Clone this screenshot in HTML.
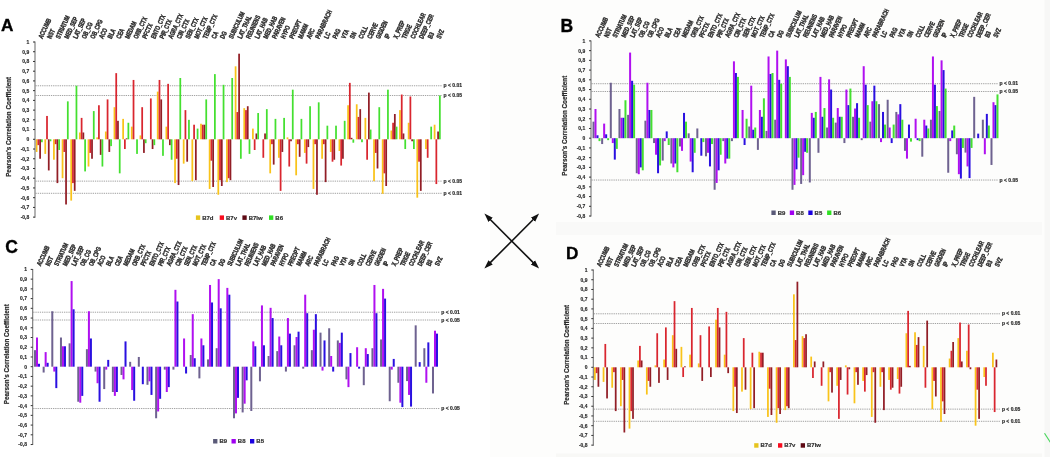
<!DOCTYPE html>
<html><head><meta charset="utf-8"><style>
html,body{margin:0;padding:0;background:#fff;}
body{width:1050px;height:457px;overflow:hidden;}
svg{display:block;font-family:"Liberation Sans", sans-serif;filter:blur(0.5px);}
text{stroke:#2a2a2a;stroke-width:0.18px;}
</style></head><body>
<svg width="1050" height="457" viewBox="0 0 1050 457">
<defs><marker id="ah" viewBox="0 0 10 10" refX="5" refY="5" markerWidth="5.5" markerHeight="5.5" orient="auto-start-reverse" markerUnits="strokeWidth"><path d="M0,1.6 L10,5 L0,8.4 z" fill="#111"/></marker></defs>
<rect width="1050" height="457" fill="#fff"/>
<rect x="490" y="0" width="560" height="457" fill="#fdfdfc"/>
<rect x="556" y="222" width="486" height="13" fill="#f9f9f8"/>
<rect x="556" y="453.5" width="486" height="4" fill="#f8f8f6"/>
<rect x="1044.5" y="0" width="6" height="457" fill="#f7f7f6"/>
<line x1="35.50" y1="85.78" x2="441.60" y2="85.78" stroke="#a2a2a2" stroke-width="1" stroke-dasharray="1.3,0.9"/>
<line x1="35.50" y1="95.52" x2="441.60" y2="95.52" stroke="#a2a2a2" stroke-width="1" stroke-dasharray="1.3,0.9"/>
<line x1="35.50" y1="181.14" x2="441.60" y2="181.14" stroke="#a2a2a2" stroke-width="1" stroke-dasharray="1.3,0.9"/>
<line x1="35.50" y1="193.30" x2="441.60" y2="193.30" stroke="#a2a2a2" stroke-width="1" stroke-dasharray="1.3,0.9"/>
<text x="443.60" y="87.38" font-size="5.2" font-weight="bold" fill="#2a2a2a" textLength="18.5" lengthAdjust="spacingAndGlyphs">p &lt; 0.01</text>
<text x="443.60" y="97.12" font-size="5.2" font-weight="bold" fill="#2a2a2a" textLength="18.5" lengthAdjust="spacingAndGlyphs">p &lt; 0.05</text>
<text x="443.60" y="182.74" font-size="5.2" font-weight="bold" fill="#2a2a2a" textLength="18.5" lengthAdjust="spacingAndGlyphs">p &lt; 0.05</text>
<text x="443.60" y="194.90" font-size="5.2" font-weight="bold" fill="#2a2a2a" textLength="18.5" lengthAdjust="spacingAndGlyphs">p &lt; 0.01</text>
<rect x="35.73" y="139.30" width="1.75" height="12.65" fill="#f9c31a"/>
<rect x="37.48" y="139.30" width="1.75" height="5.84" fill="#d9262f"/>
<rect x="39.23" y="139.30" width="1.75" height="19.46" fill="#921e26"/>
<rect x="40.98" y="139.30" width="1.75" height="2.92" fill="#44e030"/>
<rect x="44.38" y="139.30" width="1.75" height="14.60" fill="#f9c31a"/>
<rect x="46.13" y="115.95" width="1.75" height="23.35" fill="#d9262f"/>
<rect x="47.88" y="139.30" width="1.75" height="31.14" fill="#921e26"/>
<rect x="49.63" y="139.30" width="1.75" height="1.95" fill="#44e030"/>
<rect x="53.03" y="139.30" width="1.75" height="20.43" fill="#f9c31a"/>
<rect x="54.78" y="139.30" width="1.75" height="4.87" fill="#d9262f"/>
<rect x="56.53" y="139.30" width="1.75" height="43.79" fill="#921e26"/>
<rect x="58.28" y="139.30" width="1.75" height="10.70" fill="#44e030"/>
<rect x="61.68" y="139.30" width="1.75" height="38.92" fill="#f9c31a"/>
<rect x="63.43" y="139.30" width="1.75" height="12.65" fill="#d9262f"/>
<rect x="65.18" y="139.30" width="1.75" height="65.19" fill="#921e26"/>
<rect x="66.93" y="101.35" width="1.75" height="37.95" fill="#44e030"/>
<rect x="70.33" y="139.30" width="1.75" height="61.30" fill="#f9c31a"/>
<rect x="72.08" y="139.30" width="1.75" height="43.79" fill="#d9262f"/>
<rect x="73.83" y="139.30" width="1.75" height="51.57" fill="#921e26"/>
<rect x="75.58" y="85.78" width="1.75" height="53.52" fill="#44e030"/>
<rect x="78.98" y="132.49" width="1.75" height="6.81" fill="#f9c31a"/>
<rect x="80.73" y="117.89" width="1.75" height="21.41" fill="#d9262f"/>
<rect x="82.48" y="132.49" width="1.75" height="6.81" fill="#921e26"/>
<rect x="84.23" y="139.30" width="1.75" height="32.11" fill="#44e030"/>
<rect x="87.64" y="139.30" width="1.75" height="27.24" fill="#f9c31a"/>
<rect x="89.39" y="139.30" width="1.75" height="13.62" fill="#d9262f"/>
<rect x="91.14" y="139.30" width="1.75" height="19.46" fill="#921e26"/>
<rect x="92.89" y="111.08" width="1.75" height="28.22" fill="#44e030"/>
<rect x="96.29" y="137.35" width="1.75" height="1.95" fill="#f9c31a"/>
<rect x="98.04" y="105.25" width="1.75" height="34.05" fill="#d9262f"/>
<rect x="99.79" y="139.30" width="1.75" height="15.57" fill="#921e26"/>
<rect x="101.54" y="139.30" width="1.75" height="27.24" fill="#44e030"/>
<rect x="104.94" y="131.52" width="1.75" height="7.78" fill="#f9c31a"/>
<rect x="106.69" y="99.41" width="1.75" height="39.89" fill="#d9262f"/>
<rect x="108.44" y="139.30" width="1.75" height="12.65" fill="#921e26"/>
<rect x="110.19" y="139.30" width="1.75" height="6.81" fill="#44e030"/>
<rect x="113.59" y="107.19" width="1.75" height="32.11" fill="#f9c31a"/>
<rect x="115.34" y="73.14" width="1.75" height="66.16" fill="#d9262f"/>
<rect x="117.09" y="120.81" width="1.75" height="18.49" fill="#921e26"/>
<rect x="118.84" y="139.30" width="1.75" height="34.05" fill="#44e030"/>
<rect x="122.25" y="118.87" width="1.75" height="20.43" fill="#f9c31a"/>
<rect x="124.00" y="139.30" width="1.75" height="9.73" fill="#d9262f"/>
<rect x="125.75" y="138.33" width="1.75" height="0.97" fill="#921e26"/>
<rect x="127.50" y="122.76" width="1.75" height="16.54" fill="#44e030"/>
<rect x="130.90" y="126.65" width="1.75" height="12.65" fill="#f9c31a"/>
<rect x="132.65" y="79.95" width="1.75" height="59.35" fill="#d9262f"/>
<rect x="136.15" y="139.30" width="1.75" height="14.60" fill="#44e030"/>
<rect x="139.55" y="135.41" width="1.75" height="3.89" fill="#f9c31a"/>
<rect x="141.30" y="107.19" width="1.75" height="32.11" fill="#d9262f"/>
<rect x="143.05" y="139.30" width="1.75" height="13.62" fill="#921e26"/>
<rect x="144.80" y="139.30" width="1.75" height="3.89" fill="#44e030"/>
<rect x="149.95" y="98.43" width="1.75" height="40.87" fill="#d9262f"/>
<rect x="151.70" y="139.30" width="1.75" height="9.73" fill="#921e26"/>
<rect x="153.45" y="139.30" width="1.75" height="5.84" fill="#44e030"/>
<rect x="156.85" y="91.62" width="1.75" height="47.68" fill="#f9c31a"/>
<rect x="158.60" y="79.95" width="1.75" height="59.35" fill="#d9262f"/>
<rect x="160.35" y="99.41" width="1.75" height="39.89" fill="#921e26"/>
<rect x="162.10" y="139.30" width="1.75" height="16.54" fill="#44e030"/>
<rect x="165.50" y="126.65" width="1.75" height="12.65" fill="#f9c31a"/>
<rect x="167.25" y="83.84" width="1.75" height="55.46" fill="#d9262f"/>
<rect x="169.00" y="139.30" width="1.75" height="5.84" fill="#921e26"/>
<rect x="170.75" y="139.30" width="1.75" height="20.43" fill="#44e030"/>
<rect x="174.16" y="139.30" width="1.75" height="43.79" fill="#f9c31a"/>
<rect x="175.91" y="139.30" width="1.75" height="19.46" fill="#d9262f"/>
<rect x="177.66" y="139.30" width="1.75" height="45.73" fill="#921e26"/>
<rect x="179.41" y="78.00" width="1.75" height="61.30" fill="#44e030"/>
<rect x="182.81" y="139.30" width="1.75" height="24.33" fill="#f9c31a"/>
<rect x="184.56" y="110.11" width="1.75" height="29.19" fill="#d9262f"/>
<rect x="186.31" y="139.30" width="1.75" height="22.38" fill="#921e26"/>
<rect x="188.06" y="119.84" width="1.75" height="19.46" fill="#44e030"/>
<rect x="191.46" y="139.30" width="1.75" height="41.84" fill="#f9c31a"/>
<rect x="193.21" y="124.71" width="1.75" height="14.60" fill="#d9262f"/>
<rect x="194.96" y="139.30" width="1.75" height="40.87" fill="#921e26"/>
<rect x="196.71" y="128.60" width="1.75" height="10.70" fill="#44e030"/>
<rect x="200.11" y="123.73" width="1.75" height="15.57" fill="#f9c31a"/>
<rect x="201.86" y="124.71" width="1.75" height="14.60" fill="#d9262f"/>
<rect x="203.61" y="124.71" width="1.75" height="14.60" fill="#921e26"/>
<rect x="205.36" y="99.41" width="1.75" height="39.89" fill="#44e030"/>
<rect x="208.76" y="139.30" width="1.75" height="49.62" fill="#f9c31a"/>
<rect x="210.51" y="139.30" width="1.75" height="21.41" fill="#d9262f"/>
<rect x="212.26" y="139.30" width="1.75" height="47.68" fill="#921e26"/>
<rect x="214.01" y="74.11" width="1.75" height="65.19" fill="#44e030"/>
<rect x="217.42" y="139.30" width="1.75" height="55.46" fill="#f9c31a"/>
<rect x="219.17" y="139.30" width="1.75" height="40.87" fill="#d9262f"/>
<rect x="220.92" y="139.30" width="1.75" height="46.70" fill="#921e26"/>
<rect x="222.67" y="84.81" width="1.75" height="54.49" fill="#44e030"/>
<rect x="226.07" y="139.30" width="1.75" height="42.81" fill="#f9c31a"/>
<rect x="227.82" y="139.30" width="1.75" height="38.92" fill="#d9262f"/>
<rect x="229.57" y="139.30" width="1.75" height="40.87" fill="#921e26"/>
<rect x="231.32" y="78.00" width="1.75" height="61.30" fill="#44e030"/>
<rect x="234.72" y="66.33" width="1.75" height="72.98" fill="#f9c31a"/>
<rect x="236.47" y="112.06" width="1.75" height="27.24" fill="#d9262f"/>
<rect x="238.22" y="53.68" width="1.75" height="85.62" fill="#921e26"/>
<rect x="239.97" y="139.30" width="1.75" height="19.46" fill="#44e030"/>
<rect x="243.37" y="108.16" width="1.75" height="31.14" fill="#f9c31a"/>
<rect x="245.12" y="110.11" width="1.75" height="29.19" fill="#d9262f"/>
<rect x="246.87" y="106.22" width="1.75" height="33.08" fill="#921e26"/>
<rect x="248.62" y="139.30" width="1.75" height="14.60" fill="#44e030"/>
<rect x="252.02" y="128.60" width="1.75" height="10.70" fill="#f9c31a"/>
<rect x="253.77" y="139.30" width="1.75" height="10.70" fill="#d9262f"/>
<rect x="255.52" y="133.46" width="1.75" height="5.84" fill="#921e26"/>
<rect x="257.27" y="113.03" width="1.75" height="26.27" fill="#44e030"/>
<rect x="262.43" y="139.30" width="1.75" height="18.49" fill="#d9262f"/>
<rect x="264.18" y="133.46" width="1.75" height="5.84" fill="#921e26"/>
<rect x="265.93" y="109.14" width="1.75" height="30.16" fill="#44e030"/>
<rect x="269.33" y="139.30" width="1.75" height="34.05" fill="#f9c31a"/>
<rect x="271.08" y="139.30" width="1.75" height="4.87" fill="#d9262f"/>
<rect x="272.83" y="139.30" width="1.75" height="25.30" fill="#921e26"/>
<rect x="274.58" y="118.87" width="1.75" height="20.43" fill="#44e030"/>
<rect x="277.98" y="139.30" width="1.75" height="18.49" fill="#f9c31a"/>
<rect x="279.73" y="139.30" width="1.75" height="51.57" fill="#d9262f"/>
<rect x="281.48" y="139.30" width="1.75" height="12.65" fill="#921e26"/>
<rect x="283.23" y="117.89" width="1.75" height="21.41" fill="#44e030"/>
<rect x="286.63" y="137.35" width="1.75" height="1.95" fill="#f9c31a"/>
<rect x="288.38" y="139.30" width="1.75" height="27.24" fill="#d9262f"/>
<rect x="290.13" y="139.30" width="1.75" height="1.95" fill="#921e26"/>
<rect x="291.88" y="89.68" width="1.75" height="49.62" fill="#44e030"/>
<rect x="295.29" y="139.30" width="1.75" height="36.00" fill="#f9c31a"/>
<rect x="297.04" y="139.30" width="1.75" height="4.87" fill="#d9262f"/>
<rect x="298.79" y="139.30" width="1.75" height="17.51" fill="#921e26"/>
<rect x="300.54" y="118.87" width="1.75" height="20.43" fill="#44e030"/>
<rect x="303.94" y="139.30" width="1.75" height="13.62" fill="#f9c31a"/>
<rect x="305.69" y="139.30" width="1.75" height="24.33" fill="#d9262f"/>
<rect x="307.44" y="139.30" width="1.75" height="7.78" fill="#921e26"/>
<rect x="309.19" y="106.22" width="1.75" height="33.08" fill="#44e030"/>
<rect x="312.59" y="139.30" width="1.75" height="49.62" fill="#f9c31a"/>
<rect x="314.34" y="139.30" width="1.75" height="4.87" fill="#d9262f"/>
<rect x="316.09" y="139.30" width="1.75" height="55.46" fill="#921e26"/>
<rect x="317.84" y="102.33" width="1.75" height="36.97" fill="#44e030"/>
<rect x="321.24" y="139.30" width="1.75" height="19.46" fill="#f9c31a"/>
<rect x="322.99" y="139.30" width="1.75" height="4.87" fill="#d9262f"/>
<rect x="324.74" y="139.30" width="1.75" height="42.81" fill="#921e26"/>
<rect x="326.49" y="125.68" width="1.75" height="13.62" fill="#44e030"/>
<rect x="329.89" y="139.30" width="1.75" height="12.65" fill="#f9c31a"/>
<rect x="331.64" y="139.30" width="1.75" height="22.38" fill="#d9262f"/>
<rect x="333.39" y="139.30" width="1.75" height="20.43" fill="#921e26"/>
<rect x="335.14" y="125.68" width="1.75" height="13.62" fill="#44e030"/>
<rect x="338.55" y="139.30" width="1.75" height="11.68" fill="#f9c31a"/>
<rect x="340.30" y="139.30" width="1.75" height="26.27" fill="#d9262f"/>
<rect x="342.05" y="139.30" width="1.75" height="19.46" fill="#921e26"/>
<rect x="343.80" y="120.81" width="1.75" height="18.49" fill="#44e030"/>
<rect x="347.20" y="105.25" width="1.75" height="34.05" fill="#f9c31a"/>
<rect x="348.95" y="82.87" width="1.75" height="56.43" fill="#d9262f"/>
<rect x="350.70" y="137.84" width="1.75" height="1.46" fill="#921e26"/>
<rect x="352.45" y="139.30" width="1.75" height="3.41" fill="#44e030"/>
<rect x="355.85" y="104.27" width="1.75" height="35.03" fill="#f9c31a"/>
<rect x="357.60" y="116.92" width="1.75" height="22.38" fill="#d9262f"/>
<rect x="359.35" y="109.14" width="1.75" height="30.16" fill="#921e26"/>
<rect x="361.10" y="139.30" width="1.75" height="2.92" fill="#44e030"/>
<rect x="364.50" y="117.89" width="1.75" height="21.41" fill="#f9c31a"/>
<rect x="366.25" y="139.30" width="1.75" height="20.43" fill="#d9262f"/>
<rect x="368.00" y="92.60" width="1.75" height="46.70" fill="#921e26"/>
<rect x="369.75" y="129.57" width="1.75" height="9.73" fill="#44e030"/>
<rect x="373.15" y="139.30" width="1.75" height="41.84" fill="#f9c31a"/>
<rect x="374.90" y="139.30" width="1.75" height="13.62" fill="#d9262f"/>
<rect x="376.65" y="139.30" width="1.75" height="29.19" fill="#921e26"/>
<rect x="378.40" y="107.19" width="1.75" height="32.11" fill="#44e030"/>
<rect x="381.81" y="139.30" width="1.75" height="54.49" fill="#f9c31a"/>
<rect x="383.56" y="139.30" width="1.75" height="34.05" fill="#d9262f"/>
<rect x="385.31" y="139.30" width="1.75" height="46.70" fill="#921e26"/>
<rect x="387.06" y="89.68" width="1.75" height="49.62" fill="#44e030"/>
<rect x="390.46" y="130.54" width="1.75" height="8.76" fill="#f9c31a"/>
<rect x="392.21" y="122.76" width="1.75" height="16.54" fill="#d9262f"/>
<rect x="393.96" y="114.00" width="1.75" height="25.30" fill="#921e26"/>
<rect x="395.71" y="126.65" width="1.75" height="12.65" fill="#44e030"/>
<rect x="399.11" y="110.11" width="1.75" height="29.19" fill="#f9c31a"/>
<rect x="400.86" y="94.54" width="1.75" height="44.76" fill="#d9262f"/>
<rect x="402.61" y="133.46" width="1.75" height="5.84" fill="#921e26"/>
<rect x="404.36" y="139.30" width="1.75" height="9.73" fill="#44e030"/>
<rect x="407.76" y="122.76" width="1.75" height="16.54" fill="#f9c31a"/>
<rect x="409.51" y="96.49" width="1.75" height="42.81" fill="#d9262f"/>
<rect x="411.26" y="139.30" width="1.75" height="1.95" fill="#921e26"/>
<rect x="413.01" y="139.30" width="1.75" height="9.73" fill="#44e030"/>
<rect x="416.41" y="139.30" width="1.75" height="58.38" fill="#f9c31a"/>
<rect x="418.16" y="139.30" width="1.75" height="22.38" fill="#d9262f"/>
<rect x="419.91" y="139.30" width="1.75" height="51.57" fill="#921e26"/>
<rect x="425.06" y="139.30" width="1.75" height="9.73" fill="#f9c31a"/>
<rect x="426.81" y="139.30" width="1.75" height="18.49" fill="#d9262f"/>
<rect x="430.31" y="126.65" width="1.75" height="12.65" fill="#44e030"/>
<rect x="433.72" y="124.71" width="1.75" height="14.60" fill="#f9c31a"/>
<rect x="435.47" y="139.30" width="1.75" height="44.76" fill="#d9262f"/>
<rect x="437.22" y="131.52" width="1.75" height="7.78" fill="#921e26"/>
<rect x="438.97" y="95.52" width="1.75" height="43.79" fill="#44e030"/>
<line x1="35.00" y1="41.50" x2="35.00" y2="217.64" stroke="#747474" stroke-width="1.1"/>
<line x1="33.00" y1="42.00" x2="35.00" y2="42.00" stroke="#333" stroke-width="1"/>
<text transform="translate(29.20,43.90) scale(0.84,1)" font-size="5.9" font-weight="bold" fill="#2a2a2a" text-anchor="end">1</text>
<line x1="33.00" y1="51.73" x2="35.00" y2="51.73" stroke="#333" stroke-width="1"/>
<text transform="translate(29.20,53.63) scale(0.84,1)" font-size="5.9" font-weight="bold" fill="#2a2a2a" text-anchor="end">0,9</text>
<line x1="33.00" y1="61.46" x2="35.00" y2="61.46" stroke="#333" stroke-width="1"/>
<text transform="translate(29.20,63.36) scale(0.84,1)" font-size="5.9" font-weight="bold" fill="#2a2a2a" text-anchor="end">0,8</text>
<line x1="33.00" y1="71.19" x2="35.00" y2="71.19" stroke="#333" stroke-width="1"/>
<text transform="translate(29.20,73.09) scale(0.84,1)" font-size="5.9" font-weight="bold" fill="#2a2a2a" text-anchor="end">0,7</text>
<line x1="33.00" y1="80.92" x2="35.00" y2="80.92" stroke="#333" stroke-width="1"/>
<text transform="translate(29.20,82.82) scale(0.84,1)" font-size="5.9" font-weight="bold" fill="#2a2a2a" text-anchor="end">0,6</text>
<line x1="33.00" y1="90.65" x2="35.00" y2="90.65" stroke="#333" stroke-width="1"/>
<text transform="translate(29.20,92.55) scale(0.84,1)" font-size="5.9" font-weight="bold" fill="#2a2a2a" text-anchor="end">0,5</text>
<line x1="33.00" y1="100.38" x2="35.00" y2="100.38" stroke="#333" stroke-width="1"/>
<text transform="translate(29.20,102.28) scale(0.84,1)" font-size="5.9" font-weight="bold" fill="#2a2a2a" text-anchor="end">0,4</text>
<line x1="33.00" y1="110.11" x2="35.00" y2="110.11" stroke="#333" stroke-width="1"/>
<text transform="translate(29.20,112.01) scale(0.84,1)" font-size="5.9" font-weight="bold" fill="#2a2a2a" text-anchor="end">0,3</text>
<line x1="33.00" y1="119.84" x2="35.00" y2="119.84" stroke="#333" stroke-width="1"/>
<text transform="translate(29.20,121.74) scale(0.84,1)" font-size="5.9" font-weight="bold" fill="#2a2a2a" text-anchor="end">0,2</text>
<line x1="33.00" y1="129.57" x2="35.00" y2="129.57" stroke="#333" stroke-width="1"/>
<text transform="translate(29.20,131.47) scale(0.84,1)" font-size="5.9" font-weight="bold" fill="#2a2a2a" text-anchor="end">0,1</text>
<line x1="33.00" y1="139.30" x2="35.00" y2="139.30" stroke="#333" stroke-width="1"/>
<text transform="translate(29.20,141.20) scale(0.84,1)" font-size="5.9" font-weight="bold" fill="#2a2a2a" text-anchor="end">0</text>
<line x1="33.00" y1="149.03" x2="35.00" y2="149.03" stroke="#333" stroke-width="1"/>
<text transform="translate(29.20,150.93) scale(0.84,1)" font-size="5.9" font-weight="bold" fill="#2a2a2a" text-anchor="end">-0,1</text>
<line x1="33.00" y1="158.76" x2="35.00" y2="158.76" stroke="#333" stroke-width="1"/>
<text transform="translate(29.20,160.66) scale(0.84,1)" font-size="5.9" font-weight="bold" fill="#2a2a2a" text-anchor="end">-0,2</text>
<line x1="33.00" y1="168.49" x2="35.00" y2="168.49" stroke="#333" stroke-width="1"/>
<text transform="translate(29.20,170.39) scale(0.84,1)" font-size="5.9" font-weight="bold" fill="#2a2a2a" text-anchor="end">-0,3</text>
<line x1="33.00" y1="178.22" x2="35.00" y2="178.22" stroke="#333" stroke-width="1"/>
<text transform="translate(29.20,180.12) scale(0.84,1)" font-size="5.9" font-weight="bold" fill="#2a2a2a" text-anchor="end">-0,4</text>
<line x1="33.00" y1="187.95" x2="35.00" y2="187.95" stroke="#333" stroke-width="1"/>
<text transform="translate(29.20,189.85) scale(0.84,1)" font-size="5.9" font-weight="bold" fill="#2a2a2a" text-anchor="end">-0,5</text>
<line x1="33.00" y1="197.68" x2="35.00" y2="197.68" stroke="#333" stroke-width="1"/>
<text transform="translate(29.20,199.58) scale(0.84,1)" font-size="5.9" font-weight="bold" fill="#2a2a2a" text-anchor="end">-0,6</text>
<line x1="33.00" y1="207.41" x2="35.00" y2="207.41" stroke="#333" stroke-width="1"/>
<text transform="translate(29.20,209.31) scale(0.84,1)" font-size="5.9" font-weight="bold" fill="#2a2a2a" text-anchor="end">-0,7</text>
<line x1="33.00" y1="217.14" x2="35.00" y2="217.14" stroke="#333" stroke-width="1"/>
<text transform="translate(29.20,219.04) scale(0.84,1)" font-size="5.9" font-weight="bold" fill="#2a2a2a" text-anchor="end">-0,8</text>
<text transform="translate(11.00,126.85) rotate(-90)" font-size="6.4" font-weight="bold" fill="#2a2a2a" text-anchor="middle" textLength="100" lengthAdjust="spacingAndGlyphs">Pearson's Correlation Coefficient</text>
<text transform="translate(42.40,39.20) rotate(-65) scale(0.70,1)" font-size="6.9" style="stroke-width:0.42px" font-weight="bold" fill="#2a2a2a">ACCUMB</text>
<text transform="translate(51.05,39.20) rotate(-65) scale(0.70,1)" font-size="6.9" style="stroke-width:0.42px" font-weight="bold" fill="#2a2a2a">NST</text>
<text transform="translate(59.70,39.20) rotate(-65) scale(0.70,1)" font-size="6.9" style="stroke-width:0.42px" font-weight="bold" fill="#2a2a2a">STRIATUM</text>
<text transform="translate(68.36,39.20) rotate(-65) scale(0.70,1)" font-size="6.9" style="stroke-width:0.42px" font-weight="bold" fill="#2a2a2a">MED_SEP</text>
<text transform="translate(77.01,39.20) rotate(-65) scale(0.70,1)" font-size="6.9" style="stroke-width:0.42px" font-weight="bold" fill="#2a2a2a">LAT_SEP</text>
<text transform="translate(85.66,39.20) rotate(-65) scale(0.70,1)" font-size="6.9" style="stroke-width:0.42px" font-weight="bold" fill="#2a2a2a">OB_CG</text>
<text transform="translate(94.31,39.20) rotate(-65) scale(0.70,1)" font-size="6.9" style="stroke-width:0.42px" font-weight="bold" fill="#2a2a2a">OB_CPG</text>
<text transform="translate(102.96,39.20) rotate(-65) scale(0.70,1)" font-size="6.9" style="stroke-width:0.42px" font-weight="bold" fill="#2a2a2a">ACO</text>
<text transform="translate(111.62,39.20) rotate(-65) scale(0.70,1)" font-size="6.9" style="stroke-width:0.42px" font-weight="bold" fill="#2a2a2a">BLA</text>
<text transform="translate(120.27,39.20) rotate(-65) scale(0.70,1)" font-size="6.9" style="stroke-width:0.42px" font-weight="bold" fill="#2a2a2a">CEA</text>
<text transform="translate(128.92,39.20) rotate(-65) scale(0.70,1)" font-size="6.9" style="stroke-width:0.42px" font-weight="bold" fill="#2a2a2a">MEDAM</text>
<text transform="translate(137.57,39.20) rotate(-65) scale(0.70,1)" font-size="6.9" style="stroke-width:0.42px" font-weight="bold" fill="#2a2a2a">ORB_CTX</text>
<text transform="translate(146.22,39.20) rotate(-65) scale(0.70,1)" font-size="6.9" style="stroke-width:0.42px" font-weight="bold" fill="#2a2a2a">PFCTX</text>
<text transform="translate(154.88,39.20) rotate(-65) scale(0.70,1)" font-size="6.9" style="stroke-width:0.42px" font-weight="bold" fill="#2a2a2a">ENTO_CTX</text>
<text transform="translate(163.53,39.20) rotate(-65) scale(0.70,1)" font-size="6.9" style="stroke-width:0.42px" font-weight="bold" fill="#2a2a2a">PIR_CTX</text>
<text transform="translate(172.18,39.20) rotate(-65) scale(0.70,1)" font-size="6.9" style="stroke-width:0.42px" font-weight="bold" fill="#2a2a2a">AGRA_CTX</text>
<text transform="translate(180.83,39.20) rotate(-65) scale(0.70,1)" font-size="6.9" style="stroke-width:0.42px" font-weight="bold" fill="#2a2a2a">CIN_CTX</text>
<text transform="translate(189.48,39.20) rotate(-65) scale(0.70,1)" font-size="6.9" style="stroke-width:0.42px" font-weight="bold" fill="#2a2a2a">SEN_CTX</text>
<text transform="translate(198.14,39.20) rotate(-65) scale(0.70,1)" font-size="6.9" style="stroke-width:0.42px" font-weight="bold" fill="#2a2a2a">MOT_CTX</text>
<text transform="translate(206.79,39.20) rotate(-65) scale(0.70,1)" font-size="6.9" style="stroke-width:0.42px" font-weight="bold" fill="#2a2a2a">TEMP_CTX</text>
<text transform="translate(215.44,39.20) rotate(-65) scale(0.70,1)" font-size="6.9" style="stroke-width:0.42px" font-weight="bold" fill="#2a2a2a">CA</text>
<text transform="translate(224.09,39.20) rotate(-65) scale(0.70,1)" font-size="6.9" style="stroke-width:0.42px" font-weight="bold" fill="#2a2a2a">DG</text>
<text transform="translate(232.74,39.20) rotate(-65) scale(0.70,1)" font-size="6.9" style="stroke-width:0.42px" font-weight="bold" fill="#2a2a2a">SUBICULUM</text>
<text transform="translate(241.40,39.20) rotate(-65) scale(0.70,1)" font-size="6.9" style="stroke-width:0.42px" font-weight="bold" fill="#2a2a2a">LAT_THAL</text>
<text transform="translate(250.05,39.20) rotate(-65) scale(0.70,1)" font-size="6.9" style="stroke-width:0.42px" font-weight="bold" fill="#2a2a2a">REUNIENS</text>
<text transform="translate(258.70,39.20) rotate(-65) scale(0.70,1)" font-size="6.9" style="stroke-width:0.42px" font-weight="bold" fill="#2a2a2a">LAT_HAB</text>
<text transform="translate(267.35,39.20) rotate(-65) scale(0.70,1)" font-size="6.9" style="stroke-width:0.42px" font-weight="bold" fill="#2a2a2a">MED_HAB</text>
<text transform="translate(276.00,39.20) rotate(-65) scale(0.70,1)" font-size="6.9" style="stroke-width:0.42px" font-weight="bold" fill="#2a2a2a">PARAVEN</text>
<text transform="translate(284.66,39.20) rotate(-65) scale(0.70,1)" font-size="6.9" style="stroke-width:0.42px" font-weight="bold" fill="#2a2a2a">HYPO</text>
<text transform="translate(293.31,39.20) rotate(-65) scale(0.70,1)" font-size="6.9" style="stroke-width:0.42px" font-weight="bold" fill="#2a2a2a">PREOPT</text>
<text transform="translate(301.96,39.20) rotate(-65) scale(0.70,1)" font-size="6.9" style="stroke-width:0.42px" font-weight="bold" fill="#2a2a2a">MAMM</text>
<text transform="translate(310.61,39.20) rotate(-65) scale(0.70,1)" font-size="6.9" style="stroke-width:0.42px" font-weight="bold" fill="#2a2a2a">ARC</text>
<text transform="translate(319.26,39.20) rotate(-65) scale(0.70,1)" font-size="6.9" style="stroke-width:0.42px" font-weight="bold" fill="#2a2a2a">PARABRACH</text>
<text transform="translate(327.92,39.20) rotate(-65) scale(0.70,1)" font-size="6.9" style="stroke-width:0.42px" font-weight="bold" fill="#2a2a2a">LC</text>
<text transform="translate(336.57,39.20) rotate(-65) scale(0.70,1)" font-size="6.9" style="stroke-width:0.42px" font-weight="bold" fill="#2a2a2a">PAG</text>
<text transform="translate(345.22,39.20) rotate(-65) scale(0.70,1)" font-size="6.9" style="stroke-width:0.42px" font-weight="bold" fill="#2a2a2a">VTA</text>
<text transform="translate(353.87,39.20) rotate(-65) scale(0.70,1)" font-size="6.9" style="stroke-width:0.42px" font-weight="bold" fill="#2a2a2a">SN</text>
<text transform="translate(362.52,39.20) rotate(-65) scale(0.70,1)" font-size="6.9" style="stroke-width:0.42px" font-weight="bold" fill="#2a2a2a">COLL</text>
<text transform="translate(371.18,39.20) rotate(-65) scale(0.70,1)" font-size="6.9" style="stroke-width:0.42px" font-weight="bold" fill="#2a2a2a">CERVE</text>
<text transform="translate(379.83,39.20) rotate(-65) scale(0.70,1)" font-size="6.9" style="stroke-width:0.42px" font-weight="bold" fill="#2a2a2a">GIGDEN</text>
<text transform="translate(388.48,39.20) rotate(-65) scale(0.70,1)" font-size="6.9" style="stroke-width:0.42px" font-weight="bold" fill="#2a2a2a">IP</text>
<text transform="translate(397.13,39.20) rotate(-65) scale(0.70,1)" font-size="6.9" style="stroke-width:0.42px" font-weight="bold" fill="#2a2a2a">X_PREP</text>
<text transform="translate(405.78,39.20) rotate(-65) scale(0.70,1)" font-size="6.9" style="stroke-width:0.42px" font-weight="bold" fill="#2a2a2a">TRIGE</text>
<text transform="translate(414.44,39.20) rotate(-65) scale(0.70,1)" font-size="6.9" style="stroke-width:0.42px" font-weight="bold" fill="#2a2a2a">COCHLEAR</text>
<text transform="translate(423.09,39.20) rotate(-65) scale(0.70,1)" font-size="6.9" style="stroke-width:0.42px" font-weight="bold" fill="#2a2a2a">DEEP_CER</text>
<text transform="translate(431.74,39.20) rotate(-65) scale(0.70,1)" font-size="6.9" style="stroke-width:0.42px" font-weight="bold" fill="#2a2a2a">B3</text>
<text transform="translate(440.39,39.20) rotate(-65) scale(0.70,1)" font-size="6.9" style="stroke-width:0.42px" font-weight="bold" fill="#2a2a2a">SVZ</text>
<rect x="195.90" y="215.40" width="4.3" height="4.5" fill="#e6c41e"/>
<text x="202.20" y="219.60" font-size="6" font-weight="bold" fill="#333">B7d</text>
<rect x="219.70" y="215.40" width="4.3" height="4.5" fill="#f80c1e"/>
<text x="226.00" y="219.60" font-size="6" font-weight="bold" fill="#333">B7v</text>
<rect x="242.40" y="215.40" width="4.3" height="4.5" fill="#5e0a14"/>
<text x="248.70" y="219.60" font-size="6" font-weight="bold" fill="#333">B7lw</text>
<rect x="269.00" y="215.40" width="4.3" height="4.5" fill="#30e024"/>
<text x="275.30" y="219.60" font-size="6" font-weight="bold" fill="#333">B6</text>
<line x1="591.50" y1="83.71" x2="997.60" y2="83.71" stroke="#a2a2a2" stroke-width="1" stroke-dasharray="1.3,0.9"/>
<line x1="591.50" y1="91.50" x2="997.60" y2="91.50" stroke="#a2a2a2" stroke-width="1" stroke-dasharray="1.3,0.9"/>
<line x1="591.50" y1="180.04" x2="997.60" y2="180.04" stroke="#a2a2a2" stroke-width="1" stroke-dasharray="1.3,0.9"/>
<text x="999.60" y="85.31" font-size="5.2" font-weight="bold" fill="#2a2a2a" textLength="18.5" lengthAdjust="spacingAndGlyphs">p &lt; 0.01</text>
<text x="999.60" y="93.10" font-size="5.2" font-weight="bold" fill="#2a2a2a" textLength="18.5" lengthAdjust="spacingAndGlyphs">p &lt; 0.05</text>
<text x="999.60" y="181.64" font-size="5.2" font-weight="bold" fill="#2a2a2a" textLength="18.5" lengthAdjust="spacingAndGlyphs">p &lt; 0.05</text>
<rect x="592.50" y="121.66" width="2.00" height="16.54" fill="#6e6290"/>
<rect x="594.50" y="109.01" width="2.00" height="29.19" fill="#b010f0"/>
<rect x="596.50" y="135.28" width="2.00" height="2.92" fill="#2a10e0"/>
<rect x="598.50" y="138.20" width="2.00" height="2.92" fill="#44e030"/>
<rect x="601.15" y="138.20" width="2.00" height="5.84" fill="#6e6290"/>
<rect x="603.15" y="123.60" width="2.00" height="14.59" fill="#b010f0"/>
<rect x="605.15" y="134.31" width="2.00" height="3.89" fill="#2a10e0"/>
<rect x="607.15" y="138.20" width="2.00" height="1.95" fill="#44e030"/>
<rect x="609.80" y="82.74" width="2.00" height="55.46" fill="#6e6290"/>
<rect x="611.80" y="138.20" width="2.00" height="4.86" fill="#b010f0"/>
<rect x="613.80" y="138.20" width="2.00" height="21.41" fill="#2a10e0"/>
<rect x="615.80" y="138.20" width="2.00" height="10.70" fill="#44e030"/>
<rect x="618.46" y="109.01" width="2.00" height="29.19" fill="#6e6290"/>
<rect x="620.46" y="117.77" width="2.00" height="20.43" fill="#b010f0"/>
<rect x="622.46" y="117.77" width="2.00" height="20.43" fill="#2a10e0"/>
<rect x="624.46" y="100.25" width="2.00" height="37.95" fill="#44e030"/>
<rect x="627.11" y="114.85" width="2.00" height="23.35" fill="#6e6290"/>
<rect x="629.11" y="52.58" width="2.00" height="85.62" fill="#b010f0"/>
<rect x="631.11" y="80.79" width="2.00" height="57.41" fill="#2a10e0"/>
<rect x="633.11" y="84.69" width="2.00" height="53.51" fill="#44e030"/>
<rect x="635.76" y="138.20" width="2.00" height="35.03" fill="#6e6290"/>
<rect x="637.76" y="138.20" width="2.00" height="36.00" fill="#b010f0"/>
<rect x="639.76" y="138.20" width="2.00" height="29.19" fill="#2a10e0"/>
<rect x="641.76" y="138.20" width="2.00" height="32.11" fill="#44e030"/>
<rect x="644.41" y="120.69" width="2.00" height="17.51" fill="#6e6290"/>
<rect x="646.41" y="82.74" width="2.00" height="55.46" fill="#b010f0"/>
<rect x="648.41" y="109.98" width="2.00" height="28.22" fill="#2a10e0"/>
<rect x="650.41" y="109.98" width="2.00" height="28.22" fill="#44e030"/>
<rect x="653.06" y="138.20" width="2.00" height="4.86" fill="#6e6290"/>
<rect x="655.06" y="138.20" width="2.00" height="16.54" fill="#b010f0"/>
<rect x="657.06" y="138.20" width="2.00" height="35.03" fill="#2a10e0"/>
<rect x="659.06" y="138.20" width="2.00" height="27.24" fill="#44e030"/>
<rect x="661.72" y="138.20" width="2.00" height="22.38" fill="#6e6290"/>
<rect x="663.72" y="138.20" width="2.00" height="2.92" fill="#b010f0"/>
<rect x="665.72" y="131.39" width="2.00" height="6.81" fill="#2a10e0"/>
<rect x="667.72" y="138.20" width="2.00" height="6.81" fill="#44e030"/>
<rect x="670.37" y="138.20" width="2.00" height="25.30" fill="#6e6290"/>
<rect x="672.37" y="138.20" width="2.00" height="29.19" fill="#b010f0"/>
<rect x="674.37" y="138.20" width="2.00" height="25.30" fill="#2a10e0"/>
<rect x="676.37" y="138.20" width="2.00" height="34.05" fill="#44e030"/>
<rect x="679.02" y="138.20" width="2.00" height="8.27" fill="#6e6290"/>
<rect x="681.02" y="138.20" width="2.00" height="12.65" fill="#b010f0"/>
<rect x="683.02" y="112.90" width="2.00" height="25.30" fill="#2a10e0"/>
<rect x="685.02" y="121.66" width="2.00" height="16.54" fill="#44e030"/>
<rect x="687.67" y="133.33" width="2.00" height="4.86" fill="#6e6290"/>
<rect x="689.67" y="138.20" width="2.00" height="23.35" fill="#b010f0"/>
<rect x="691.67" y="138.20" width="2.00" height="34.05" fill="#2a10e0"/>
<rect x="693.67" y="138.20" width="2.00" height="14.59" fill="#44e030"/>
<rect x="696.32" y="128.47" width="2.00" height="9.73" fill="#6e6290"/>
<rect x="700.32" y="138.20" width="2.00" height="17.51" fill="#2a10e0"/>
<rect x="702.32" y="138.20" width="2.00" height="3.89" fill="#44e030"/>
<rect x="704.98" y="138.20" width="2.00" height="18.10" fill="#6e6290"/>
<rect x="706.98" y="138.20" width="2.00" height="14.59" fill="#b010f0"/>
<rect x="708.98" y="138.20" width="2.00" height="28.22" fill="#2a10e0"/>
<rect x="710.98" y="138.20" width="2.00" height="5.84" fill="#44e030"/>
<rect x="713.63" y="138.20" width="2.00" height="51.57" fill="#6e6290"/>
<rect x="715.63" y="138.20" width="2.00" height="44.76" fill="#b010f0"/>
<rect x="717.63" y="138.20" width="2.00" height="32.11" fill="#2a10e0"/>
<rect x="719.63" y="138.20" width="2.00" height="16.54" fill="#44e030"/>
<rect x="722.28" y="138.20" width="2.00" height="2.92" fill="#6e6290"/>
<rect x="724.28" y="138.20" width="2.00" height="25.30" fill="#b010f0"/>
<rect x="726.28" y="138.20" width="2.00" height="20.43" fill="#2a10e0"/>
<rect x="728.28" y="138.20" width="2.00" height="20.43" fill="#44e030"/>
<rect x="730.93" y="138.20" width="2.00" height="2.92" fill="#6e6290"/>
<rect x="732.93" y="61.33" width="2.00" height="76.87" fill="#b010f0"/>
<rect x="734.93" y="73.01" width="2.00" height="65.19" fill="#2a10e0"/>
<rect x="736.93" y="76.90" width="2.00" height="61.30" fill="#44e030"/>
<rect x="741.58" y="109.98" width="2.00" height="28.22" fill="#b010f0"/>
<rect x="743.58" y="138.20" width="2.00" height="6.81" fill="#2a10e0"/>
<rect x="745.58" y="118.74" width="2.00" height="19.46" fill="#44e030"/>
<rect x="748.24" y="126.52" width="2.00" height="11.68" fill="#6e6290"/>
<rect x="750.24" y="85.66" width="2.00" height="52.54" fill="#b010f0"/>
<rect x="752.24" y="129.73" width="2.00" height="8.47" fill="#2a10e0"/>
<rect x="754.24" y="127.50" width="2.00" height="10.70" fill="#44e030"/>
<rect x="756.89" y="138.20" width="2.00" height="11.68" fill="#6e6290"/>
<rect x="758.89" y="109.98" width="2.00" height="28.22" fill="#b010f0"/>
<rect x="760.89" y="116.79" width="2.00" height="21.41" fill="#2a10e0"/>
<rect x="762.89" y="98.31" width="2.00" height="39.89" fill="#44e030"/>
<rect x="765.54" y="130.90" width="2.00" height="7.30" fill="#6e6290"/>
<rect x="767.54" y="56.47" width="2.00" height="81.73" fill="#b010f0"/>
<rect x="769.54" y="73.98" width="2.00" height="64.22" fill="#2a10e0"/>
<rect x="771.54" y="73.01" width="2.00" height="65.19" fill="#44e030"/>
<rect x="774.19" y="119.71" width="2.00" height="18.49" fill="#6e6290"/>
<rect x="776.19" y="50.63" width="2.00" height="87.57" fill="#b010f0"/>
<rect x="778.19" y="79.82" width="2.00" height="58.38" fill="#2a10e0"/>
<rect x="780.19" y="83.71" width="2.00" height="54.49" fill="#44e030"/>
<rect x="784.84" y="59.39" width="2.00" height="78.81" fill="#b010f0"/>
<rect x="786.84" y="66.20" width="2.00" height="72.00" fill="#2a10e0"/>
<rect x="788.84" y="76.90" width="2.00" height="61.30" fill="#44e030"/>
<rect x="791.50" y="138.20" width="2.00" height="51.57" fill="#6e6290"/>
<rect x="793.50" y="138.20" width="2.00" height="46.70" fill="#b010f0"/>
<rect x="795.50" y="138.20" width="2.00" height="31.14" fill="#2a10e0"/>
<rect x="797.50" y="138.20" width="2.00" height="19.46" fill="#44e030"/>
<rect x="800.15" y="138.20" width="2.00" height="45.73" fill="#6e6290"/>
<rect x="802.15" y="138.20" width="2.00" height="36.97" fill="#b010f0"/>
<rect x="804.15" y="138.20" width="2.00" height="13.62" fill="#2a10e0"/>
<rect x="806.15" y="138.20" width="2.00" height="14.59" fill="#44e030"/>
<rect x="808.80" y="138.20" width="2.00" height="44.27" fill="#6e6290"/>
<rect x="810.80" y="112.90" width="2.00" height="25.30" fill="#b010f0"/>
<rect x="812.80" y="117.77" width="2.00" height="20.43" fill="#2a10e0"/>
<rect x="814.80" y="111.93" width="2.00" height="26.27" fill="#44e030"/>
<rect x="817.45" y="138.20" width="2.00" height="14.59" fill="#6e6290"/>
<rect x="819.45" y="76.90" width="2.00" height="61.30" fill="#b010f0"/>
<rect x="821.45" y="116.79" width="2.00" height="21.41" fill="#2a10e0"/>
<rect x="823.45" y="108.04" width="2.00" height="30.16" fill="#44e030"/>
<rect x="826.10" y="127.50" width="2.00" height="10.70" fill="#6e6290"/>
<rect x="828.10" y="79.33" width="2.00" height="58.87" fill="#b010f0"/>
<rect x="830.10" y="89.55" width="2.00" height="48.65" fill="#2a10e0"/>
<rect x="832.10" y="117.77" width="2.00" height="20.43" fill="#44e030"/>
<rect x="834.76" y="122.63" width="2.00" height="15.57" fill="#6e6290"/>
<rect x="836.76" y="108.04" width="2.00" height="30.16" fill="#b010f0"/>
<rect x="838.76" y="116.79" width="2.00" height="21.41" fill="#2a10e0"/>
<rect x="840.76" y="116.79" width="2.00" height="21.41" fill="#44e030"/>
<rect x="843.41" y="138.20" width="2.00" height="4.86" fill="#6e6290"/>
<rect x="845.41" y="89.55" width="2.00" height="48.65" fill="#b010f0"/>
<rect x="847.41" y="105.12" width="2.00" height="33.08" fill="#2a10e0"/>
<rect x="849.41" y="88.58" width="2.00" height="49.62" fill="#44e030"/>
<rect x="852.06" y="116.79" width="2.00" height="21.41" fill="#6e6290"/>
<rect x="854.06" y="108.52" width="2.00" height="29.68" fill="#b010f0"/>
<rect x="856.06" y="103.17" width="2.00" height="35.03" fill="#2a10e0"/>
<rect x="858.06" y="117.77" width="2.00" height="20.43" fill="#44e030"/>
<rect x="860.71" y="138.20" width="2.00" height="1.95" fill="#6e6290"/>
<rect x="862.71" y="66.20" width="2.00" height="72.00" fill="#b010f0"/>
<rect x="864.71" y="84.69" width="2.00" height="53.51" fill="#2a10e0"/>
<rect x="866.71" y="105.12" width="2.00" height="33.08" fill="#44e030"/>
<rect x="869.36" y="121.66" width="2.00" height="16.54" fill="#6e6290"/>
<rect x="871.36" y="101.23" width="2.00" height="36.97" fill="#b010f0"/>
<rect x="873.36" y="85.66" width="2.00" height="52.54" fill="#2a10e0"/>
<rect x="875.36" y="101.23" width="2.00" height="36.97" fill="#44e030"/>
<rect x="878.02" y="104.14" width="2.00" height="34.05" fill="#6e6290"/>
<rect x="880.02" y="138.20" width="2.00" height="3.89" fill="#b010f0"/>
<rect x="882.02" y="111.93" width="2.00" height="26.27" fill="#2a10e0"/>
<rect x="884.02" y="124.58" width="2.00" height="13.62" fill="#44e030"/>
<rect x="886.67" y="99.77" width="2.00" height="38.43" fill="#6e6290"/>
<rect x="888.67" y="127.50" width="2.00" height="10.70" fill="#b010f0"/>
<rect x="890.67" y="138.20" width="2.00" height="4.86" fill="#2a10e0"/>
<rect x="892.67" y="124.58" width="2.00" height="13.62" fill="#44e030"/>
<rect x="895.32" y="111.93" width="2.00" height="26.27" fill="#6e6290"/>
<rect x="897.32" y="114.36" width="2.00" height="23.84" fill="#b010f0"/>
<rect x="899.32" y="104.14" width="2.00" height="34.05" fill="#2a10e0"/>
<rect x="901.32" y="119.71" width="2.00" height="18.49" fill="#44e030"/>
<rect x="903.97" y="138.20" width="2.00" height="12.65" fill="#6e6290"/>
<rect x="905.97" y="138.20" width="2.00" height="20.43" fill="#b010f0"/>
<rect x="907.97" y="124.58" width="2.00" height="13.62" fill="#2a10e0"/>
<rect x="909.97" y="138.20" width="2.00" height="3.41" fill="#44e030"/>
<rect x="914.62" y="118.74" width="2.00" height="19.46" fill="#b010f0"/>
<rect x="916.62" y="138.20" width="2.00" height="1.95" fill="#2a10e0"/>
<rect x="918.62" y="138.20" width="2.00" height="2.92" fill="#44e030"/>
<rect x="921.28" y="138.20" width="2.00" height="18.49" fill="#6e6290"/>
<rect x="923.28" y="119.71" width="2.00" height="18.49" fill="#b010f0"/>
<rect x="925.28" y="125.55" width="2.00" height="12.65" fill="#2a10e0"/>
<rect x="927.28" y="128.47" width="2.00" height="9.73" fill="#44e030"/>
<rect x="929.93" y="119.71" width="2.00" height="18.49" fill="#6e6290"/>
<rect x="931.93" y="56.47" width="2.00" height="81.73" fill="#b010f0"/>
<rect x="933.93" y="84.69" width="2.00" height="53.51" fill="#2a10e0"/>
<rect x="935.93" y="106.09" width="2.00" height="32.11" fill="#44e030"/>
<rect x="938.58" y="110.96" width="2.00" height="27.24" fill="#6e6290"/>
<rect x="940.58" y="60.36" width="2.00" height="77.84" fill="#b010f0"/>
<rect x="942.58" y="70.09" width="2.00" height="68.11" fill="#2a10e0"/>
<rect x="944.58" y="88.58" width="2.00" height="49.62" fill="#44e030"/>
<rect x="947.23" y="138.20" width="2.00" height="34.54" fill="#6e6290"/>
<rect x="949.23" y="138.20" width="2.00" height="2.92" fill="#b010f0"/>
<rect x="951.23" y="130.42" width="2.00" height="7.78" fill="#2a10e0"/>
<rect x="953.23" y="125.55" width="2.00" height="12.65" fill="#44e030"/>
<rect x="955.88" y="138.20" width="2.00" height="16.05" fill="#6e6290"/>
<rect x="957.88" y="138.20" width="2.00" height="36.00" fill="#b010f0"/>
<rect x="959.88" y="138.20" width="2.00" height="40.38" fill="#2a10e0"/>
<rect x="961.88" y="138.20" width="2.00" height="9.73" fill="#44e030"/>
<rect x="964.54" y="138.20" width="2.00" height="14.40" fill="#6e6290"/>
<rect x="966.54" y="138.20" width="2.00" height="28.22" fill="#b010f0"/>
<rect x="968.54" y="138.20" width="2.00" height="39.89" fill="#2a10e0"/>
<rect x="970.54" y="138.20" width="2.00" height="9.73" fill="#44e030"/>
<rect x="973.19" y="96.85" width="2.00" height="41.35" fill="#6e6290"/>
<rect x="977.19" y="133.63" width="2.00" height="4.57" fill="#2a10e0"/>
<rect x="981.84" y="119.71" width="2.00" height="18.49" fill="#6e6290"/>
<rect x="983.84" y="138.20" width="2.00" height="16.05" fill="#b010f0"/>
<rect x="985.84" y="113.88" width="2.00" height="24.32" fill="#2a10e0"/>
<rect x="987.84" y="125.55" width="2.00" height="12.65" fill="#44e030"/>
<rect x="990.49" y="138.20" width="2.00" height="26.76" fill="#6e6290"/>
<rect x="992.49" y="102.20" width="2.00" height="36.00" fill="#b010f0"/>
<rect x="994.49" y="105.12" width="2.00" height="33.08" fill="#2a10e0"/>
<rect x="996.49" y="94.41" width="2.00" height="43.78" fill="#44e030"/>
<line x1="591.00" y1="40.40" x2="591.00" y2="216.54" stroke="#747474" stroke-width="1.1"/>
<line x1="589.00" y1="40.90" x2="591.00" y2="40.90" stroke="#333" stroke-width="1"/>
<text transform="translate(585.20,42.80) scale(0.84,1)" font-size="5.9" font-weight="bold" fill="#2a2a2a" text-anchor="end">1</text>
<line x1="589.00" y1="50.63" x2="591.00" y2="50.63" stroke="#333" stroke-width="1"/>
<text transform="translate(585.20,52.53) scale(0.84,1)" font-size="5.9" font-weight="bold" fill="#2a2a2a" text-anchor="end">0,9</text>
<line x1="589.00" y1="60.36" x2="591.00" y2="60.36" stroke="#333" stroke-width="1"/>
<text transform="translate(585.20,62.26) scale(0.84,1)" font-size="5.9" font-weight="bold" fill="#2a2a2a" text-anchor="end">0,8</text>
<line x1="589.00" y1="70.09" x2="591.00" y2="70.09" stroke="#333" stroke-width="1"/>
<text transform="translate(585.20,71.99) scale(0.84,1)" font-size="5.9" font-weight="bold" fill="#2a2a2a" text-anchor="end">0,7</text>
<line x1="589.00" y1="79.82" x2="591.00" y2="79.82" stroke="#333" stroke-width="1"/>
<text transform="translate(585.20,81.72) scale(0.84,1)" font-size="5.9" font-weight="bold" fill="#2a2a2a" text-anchor="end">0,6</text>
<line x1="589.00" y1="89.55" x2="591.00" y2="89.55" stroke="#333" stroke-width="1"/>
<text transform="translate(585.20,91.45) scale(0.84,1)" font-size="5.9" font-weight="bold" fill="#2a2a2a" text-anchor="end">0,5</text>
<line x1="589.00" y1="99.28" x2="591.00" y2="99.28" stroke="#333" stroke-width="1"/>
<text transform="translate(585.20,101.18) scale(0.84,1)" font-size="5.9" font-weight="bold" fill="#2a2a2a" text-anchor="end">0,4</text>
<line x1="589.00" y1="109.01" x2="591.00" y2="109.01" stroke="#333" stroke-width="1"/>
<text transform="translate(585.20,110.91) scale(0.84,1)" font-size="5.9" font-weight="bold" fill="#2a2a2a" text-anchor="end">0,3</text>
<line x1="589.00" y1="118.74" x2="591.00" y2="118.74" stroke="#333" stroke-width="1"/>
<text transform="translate(585.20,120.64) scale(0.84,1)" font-size="5.9" font-weight="bold" fill="#2a2a2a" text-anchor="end">0,2</text>
<line x1="589.00" y1="128.47" x2="591.00" y2="128.47" stroke="#333" stroke-width="1"/>
<text transform="translate(585.20,130.37) scale(0.84,1)" font-size="5.9" font-weight="bold" fill="#2a2a2a" text-anchor="end">0,1</text>
<line x1="589.00" y1="138.20" x2="591.00" y2="138.20" stroke="#333" stroke-width="1"/>
<text transform="translate(585.20,140.10) scale(0.84,1)" font-size="5.9" font-weight="bold" fill="#2a2a2a" text-anchor="end">0</text>
<line x1="589.00" y1="147.93" x2="591.00" y2="147.93" stroke="#333" stroke-width="1"/>
<text transform="translate(585.20,149.83) scale(0.84,1)" font-size="5.9" font-weight="bold" fill="#2a2a2a" text-anchor="end">-0,1</text>
<line x1="589.00" y1="157.66" x2="591.00" y2="157.66" stroke="#333" stroke-width="1"/>
<text transform="translate(585.20,159.56) scale(0.84,1)" font-size="5.9" font-weight="bold" fill="#2a2a2a" text-anchor="end">-0,2</text>
<line x1="589.00" y1="167.39" x2="591.00" y2="167.39" stroke="#333" stroke-width="1"/>
<text transform="translate(585.20,169.29) scale(0.84,1)" font-size="5.9" font-weight="bold" fill="#2a2a2a" text-anchor="end">-0,3</text>
<line x1="589.00" y1="177.12" x2="591.00" y2="177.12" stroke="#333" stroke-width="1"/>
<text transform="translate(585.20,179.02) scale(0.84,1)" font-size="5.9" font-weight="bold" fill="#2a2a2a" text-anchor="end">-0,4</text>
<line x1="589.00" y1="186.85" x2="591.00" y2="186.85" stroke="#333" stroke-width="1"/>
<text transform="translate(585.20,188.75) scale(0.84,1)" font-size="5.9" font-weight="bold" fill="#2a2a2a" text-anchor="end">-0,5</text>
<line x1="589.00" y1="196.58" x2="591.00" y2="196.58" stroke="#333" stroke-width="1"/>
<text transform="translate(585.20,198.48) scale(0.84,1)" font-size="5.9" font-weight="bold" fill="#2a2a2a" text-anchor="end">-0,6</text>
<line x1="589.00" y1="206.31" x2="591.00" y2="206.31" stroke="#333" stroke-width="1"/>
<text transform="translate(585.20,208.21) scale(0.84,1)" font-size="5.9" font-weight="bold" fill="#2a2a2a" text-anchor="end">-0,7</text>
<line x1="589.00" y1="216.04" x2="591.00" y2="216.04" stroke="#333" stroke-width="1"/>
<text transform="translate(585.20,217.94) scale(0.84,1)" font-size="5.9" font-weight="bold" fill="#2a2a2a" text-anchor="end">-0,8</text>
<text transform="translate(567.00,125.75) rotate(-90)" font-size="6.4" font-weight="bold" fill="#2a2a2a" text-anchor="middle" textLength="100" lengthAdjust="spacingAndGlyphs">Pearson's Correlation Coefficient</text>
<text transform="translate(599.30,38.10) rotate(-65) scale(0.70,1)" font-size="6.9" style="stroke-width:0.42px" font-weight="bold" fill="#2a2a2a">ACCUMB</text>
<text transform="translate(607.95,38.10) rotate(-65) scale(0.70,1)" font-size="6.9" style="stroke-width:0.42px" font-weight="bold" fill="#2a2a2a">NST</text>
<text transform="translate(616.60,38.10) rotate(-65) scale(0.70,1)" font-size="6.9" style="stroke-width:0.42px" font-weight="bold" fill="#2a2a2a">STRIATUM</text>
<text transform="translate(625.26,38.10) rotate(-65) scale(0.70,1)" font-size="6.9" style="stroke-width:0.42px" font-weight="bold" fill="#2a2a2a">MED_SEP</text>
<text transform="translate(633.91,38.10) rotate(-65) scale(0.70,1)" font-size="6.9" style="stroke-width:0.42px" font-weight="bold" fill="#2a2a2a">LAT_SEP</text>
<text transform="translate(642.56,38.10) rotate(-65) scale(0.70,1)" font-size="6.9" style="stroke-width:0.42px" font-weight="bold" fill="#2a2a2a">OB_CG</text>
<text transform="translate(651.21,38.10) rotate(-65) scale(0.70,1)" font-size="6.9" style="stroke-width:0.42px" font-weight="bold" fill="#2a2a2a">OB_CPG</text>
<text transform="translate(659.86,38.10) rotate(-65) scale(0.70,1)" font-size="6.9" style="stroke-width:0.42px" font-weight="bold" fill="#2a2a2a">ACO</text>
<text transform="translate(668.52,38.10) rotate(-65) scale(0.70,1)" font-size="6.9" style="stroke-width:0.42px" font-weight="bold" fill="#2a2a2a">BLA</text>
<text transform="translate(677.17,38.10) rotate(-65) scale(0.70,1)" font-size="6.9" style="stroke-width:0.42px" font-weight="bold" fill="#2a2a2a">CEA</text>
<text transform="translate(685.82,38.10) rotate(-65) scale(0.70,1)" font-size="6.9" style="stroke-width:0.42px" font-weight="bold" fill="#2a2a2a">MEDAM</text>
<text transform="translate(694.47,38.10) rotate(-65) scale(0.70,1)" font-size="6.9" style="stroke-width:0.42px" font-weight="bold" fill="#2a2a2a">ORB_CTX</text>
<text transform="translate(703.12,38.10) rotate(-65) scale(0.70,1)" font-size="6.9" style="stroke-width:0.42px" font-weight="bold" fill="#2a2a2a">PFCTX</text>
<text transform="translate(711.78,38.10) rotate(-65) scale(0.70,1)" font-size="6.9" style="stroke-width:0.42px" font-weight="bold" fill="#2a2a2a">ENTO_CTX</text>
<text transform="translate(720.43,38.10) rotate(-65) scale(0.70,1)" font-size="6.9" style="stroke-width:0.42px" font-weight="bold" fill="#2a2a2a">PIR_CTX</text>
<text transform="translate(729.08,38.10) rotate(-65) scale(0.70,1)" font-size="6.9" style="stroke-width:0.42px" font-weight="bold" fill="#2a2a2a">AGRA_CTX</text>
<text transform="translate(737.73,38.10) rotate(-65) scale(0.70,1)" font-size="6.9" style="stroke-width:0.42px" font-weight="bold" fill="#2a2a2a">CIN_CTX</text>
<text transform="translate(746.38,38.10) rotate(-65) scale(0.70,1)" font-size="6.9" style="stroke-width:0.42px" font-weight="bold" fill="#2a2a2a">SEN_CTX</text>
<text transform="translate(755.04,38.10) rotate(-65) scale(0.70,1)" font-size="6.9" style="stroke-width:0.42px" font-weight="bold" fill="#2a2a2a">MOT_CTX</text>
<text transform="translate(763.69,38.10) rotate(-65) scale(0.70,1)" font-size="6.9" style="stroke-width:0.42px" font-weight="bold" fill="#2a2a2a">TEMP_CTX</text>
<text transform="translate(772.34,38.10) rotate(-65) scale(0.70,1)" font-size="6.9" style="stroke-width:0.42px" font-weight="bold" fill="#2a2a2a">CA</text>
<text transform="translate(780.99,38.10) rotate(-65) scale(0.70,1)" font-size="6.9" style="stroke-width:0.42px" font-weight="bold" fill="#2a2a2a">DG</text>
<text transform="translate(789.64,38.10) rotate(-65) scale(0.70,1)" font-size="6.9" style="stroke-width:0.42px" font-weight="bold" fill="#2a2a2a">SUBICULUM</text>
<text transform="translate(798.30,38.10) rotate(-65) scale(0.70,1)" font-size="6.9" style="stroke-width:0.42px" font-weight="bold" fill="#2a2a2a">LAT_THAL</text>
<text transform="translate(806.95,38.10) rotate(-65) scale(0.70,1)" font-size="6.9" style="stroke-width:0.42px" font-weight="bold" fill="#2a2a2a">REUNIENS</text>
<text transform="translate(815.60,38.10) rotate(-65) scale(0.70,1)" font-size="6.9" style="stroke-width:0.42px" font-weight="bold" fill="#2a2a2a">LAT_HAB</text>
<text transform="translate(824.25,38.10) rotate(-65) scale(0.70,1)" font-size="6.9" style="stroke-width:0.42px" font-weight="bold" fill="#2a2a2a">MED_HAB</text>
<text transform="translate(832.90,38.10) rotate(-65) scale(0.70,1)" font-size="6.9" style="stroke-width:0.42px" font-weight="bold" fill="#2a2a2a">PARAVEN</text>
<text transform="translate(841.56,38.10) rotate(-65) scale(0.70,1)" font-size="6.9" style="stroke-width:0.42px" font-weight="bold" fill="#2a2a2a">HYPO</text>
<text transform="translate(850.21,38.10) rotate(-65) scale(0.70,1)" font-size="6.9" style="stroke-width:0.42px" font-weight="bold" fill="#2a2a2a">PREOPT</text>
<text transform="translate(858.86,38.10) rotate(-65) scale(0.70,1)" font-size="6.9" style="stroke-width:0.42px" font-weight="bold" fill="#2a2a2a">MAMM</text>
<text transform="translate(867.51,38.10) rotate(-65) scale(0.70,1)" font-size="6.9" style="stroke-width:0.42px" font-weight="bold" fill="#2a2a2a">ARC</text>
<text transform="translate(876.16,38.10) rotate(-65) scale(0.70,1)" font-size="6.9" style="stroke-width:0.42px" font-weight="bold" fill="#2a2a2a">PARABRACH</text>
<text transform="translate(884.82,38.10) rotate(-65) scale(0.70,1)" font-size="6.9" style="stroke-width:0.42px" font-weight="bold" fill="#2a2a2a">LC</text>
<text transform="translate(893.47,38.10) rotate(-65) scale(0.70,1)" font-size="6.9" style="stroke-width:0.42px" font-weight="bold" fill="#2a2a2a">PAG</text>
<text transform="translate(902.12,38.10) rotate(-65) scale(0.70,1)" font-size="6.9" style="stroke-width:0.42px" font-weight="bold" fill="#2a2a2a">VTA</text>
<text transform="translate(910.77,38.10) rotate(-65) scale(0.70,1)" font-size="6.9" style="stroke-width:0.42px" font-weight="bold" fill="#2a2a2a">SN</text>
<text transform="translate(919.42,38.10) rotate(-65) scale(0.70,1)" font-size="6.9" style="stroke-width:0.42px" font-weight="bold" fill="#2a2a2a">COLL</text>
<text transform="translate(928.08,38.10) rotate(-65) scale(0.70,1)" font-size="6.9" style="stroke-width:0.42px" font-weight="bold" fill="#2a2a2a">CERVE</text>
<text transform="translate(936.73,38.10) rotate(-65) scale(0.70,1)" font-size="6.9" style="stroke-width:0.42px" font-weight="bold" fill="#2a2a2a">GIGDEN</text>
<text transform="translate(945.38,38.10) rotate(-65) scale(0.70,1)" font-size="6.9" style="stroke-width:0.42px" font-weight="bold" fill="#2a2a2a">IP</text>
<text transform="translate(954.03,38.10) rotate(-65) scale(0.70,1)" font-size="6.9" style="stroke-width:0.42px" font-weight="bold" fill="#2a2a2a">X_PREP</text>
<text transform="translate(962.68,38.10) rotate(-65) scale(0.70,1)" font-size="6.9" style="stroke-width:0.42px" font-weight="bold" fill="#2a2a2a">TRIGE</text>
<text transform="translate(971.34,38.10) rotate(-65) scale(0.70,1)" font-size="6.9" style="stroke-width:0.42px" font-weight="bold" fill="#2a2a2a">COCHLEAR</text>
<text transform="translate(979.99,38.10) rotate(-65) scale(0.70,1)" font-size="6.9" style="stroke-width:0.42px" font-weight="bold" fill="#2a2a2a">DEEP_CER</text>
<text transform="translate(988.64,38.10) rotate(-65) scale(0.70,1)" font-size="6.9" style="stroke-width:0.42px" font-weight="bold" fill="#2a2a2a">B3</text>
<text transform="translate(997.29,38.10) rotate(-65) scale(0.70,1)" font-size="6.9" style="stroke-width:0.42px" font-weight="bold" fill="#2a2a2a">SVZ</text>
<rect x="771.40" y="210.50" width="4.3" height="4.5" fill="#5a5a78"/>
<text x="777.70" y="214.70" font-size="6" font-weight="bold" fill="#333">B9</text>
<rect x="789.80" y="210.50" width="4.3" height="4.5" fill="#a000f0"/>
<text x="796.10" y="214.70" font-size="6" font-weight="bold" fill="#333">B8</text>
<rect x="808.30" y="210.50" width="4.3" height="4.5" fill="#1a00e0"/>
<text x="814.60" y="214.70" font-size="6" font-weight="bold" fill="#333">B5</text>
<rect x="827.10" y="210.50" width="4.3" height="4.5" fill="#30e024"/>
<text x="833.40" y="214.70" font-size="6" font-weight="bold" fill="#333">B6</text>
<line x1="33.20" y1="312.21" x2="439.30" y2="312.21" stroke="#a2a2a2" stroke-width="1" stroke-dasharray="1.3,0.9"/>
<line x1="33.20" y1="320.00" x2="439.30" y2="320.00" stroke="#a2a2a2" stroke-width="1" stroke-dasharray="1.3,0.9"/>
<line x1="33.20" y1="408.54" x2="439.30" y2="408.54" stroke="#a2a2a2" stroke-width="1" stroke-dasharray="1.3,0.9"/>
<text x="441.30" y="313.81" font-size="5.2" font-weight="bold" fill="#2a2a2a" textLength="18.5" lengthAdjust="spacingAndGlyphs">p &lt; 0.01</text>
<text x="441.30" y="321.60" font-size="5.2" font-weight="bold" fill="#2a2a2a" textLength="18.5" lengthAdjust="spacingAndGlyphs">p &lt; 0.05</text>
<text x="441.30" y="410.14" font-size="5.2" font-weight="bold" fill="#2a2a2a" textLength="18.5" lengthAdjust="spacingAndGlyphs">p &lt; 0.05</text>
<rect x="34.00" y="350.16" width="2.00" height="16.54" fill="#6e6290"/>
<rect x="36.00" y="337.51" width="2.00" height="29.19" fill="#b010f0"/>
<rect x="38.00" y="363.78" width="2.00" height="2.92" fill="#2a10e0"/>
<rect x="42.65" y="366.70" width="2.00" height="5.84" fill="#6e6290"/>
<rect x="44.65" y="352.10" width="2.00" height="14.60" fill="#b010f0"/>
<rect x="46.65" y="362.81" width="2.00" height="3.89" fill="#2a10e0"/>
<rect x="51.30" y="311.24" width="2.00" height="55.46" fill="#6e6290"/>
<rect x="53.30" y="366.70" width="2.00" height="4.87" fill="#b010f0"/>
<rect x="55.30" y="366.70" width="2.00" height="21.41" fill="#2a10e0"/>
<rect x="59.96" y="337.51" width="2.00" height="29.19" fill="#6e6290"/>
<rect x="61.96" y="346.27" width="2.00" height="20.43" fill="#b010f0"/>
<rect x="63.96" y="346.27" width="2.00" height="20.43" fill="#2a10e0"/>
<rect x="68.61" y="343.35" width="2.00" height="23.35" fill="#6e6290"/>
<rect x="70.61" y="281.08" width="2.00" height="85.62" fill="#b010f0"/>
<rect x="72.61" y="309.29" width="2.00" height="57.41" fill="#2a10e0"/>
<rect x="77.26" y="366.70" width="2.00" height="35.03" fill="#6e6290"/>
<rect x="79.26" y="366.70" width="2.00" height="36.00" fill="#b010f0"/>
<rect x="81.26" y="366.70" width="2.00" height="29.19" fill="#2a10e0"/>
<rect x="85.91" y="349.19" width="2.00" height="17.51" fill="#6e6290"/>
<rect x="87.91" y="311.24" width="2.00" height="55.46" fill="#b010f0"/>
<rect x="89.91" y="338.48" width="2.00" height="28.22" fill="#2a10e0"/>
<rect x="94.56" y="366.70" width="2.00" height="4.87" fill="#6e6290"/>
<rect x="96.56" y="366.70" width="2.00" height="16.54" fill="#b010f0"/>
<rect x="98.56" y="366.70" width="2.00" height="35.03" fill="#2a10e0"/>
<rect x="103.22" y="366.70" width="2.00" height="22.38" fill="#6e6290"/>
<rect x="105.22" y="366.70" width="2.00" height="2.92" fill="#b010f0"/>
<rect x="107.22" y="359.89" width="2.00" height="6.81" fill="#2a10e0"/>
<rect x="111.87" y="366.70" width="2.00" height="25.30" fill="#6e6290"/>
<rect x="113.87" y="366.70" width="2.00" height="29.19" fill="#b010f0"/>
<rect x="115.87" y="366.70" width="2.00" height="25.30" fill="#2a10e0"/>
<rect x="120.52" y="366.70" width="2.00" height="8.27" fill="#6e6290"/>
<rect x="122.52" y="366.70" width="2.00" height="12.65" fill="#b010f0"/>
<rect x="124.52" y="341.40" width="2.00" height="25.30" fill="#2a10e0"/>
<rect x="129.17" y="361.83" width="2.00" height="4.87" fill="#6e6290"/>
<rect x="131.17" y="366.70" width="2.00" height="23.35" fill="#b010f0"/>
<rect x="133.17" y="366.70" width="2.00" height="34.05" fill="#2a10e0"/>
<rect x="137.82" y="356.97" width="2.00" height="9.73" fill="#6e6290"/>
<rect x="141.82" y="366.70" width="2.00" height="17.51" fill="#2a10e0"/>
<rect x="146.48" y="366.70" width="2.00" height="18.10" fill="#6e6290"/>
<rect x="148.48" y="366.70" width="2.00" height="14.60" fill="#b010f0"/>
<rect x="150.48" y="366.70" width="2.00" height="28.22" fill="#2a10e0"/>
<rect x="155.13" y="366.70" width="2.00" height="51.57" fill="#6e6290"/>
<rect x="157.13" y="366.70" width="2.00" height="44.76" fill="#b010f0"/>
<rect x="159.13" y="366.70" width="2.00" height="32.11" fill="#2a10e0"/>
<rect x="163.78" y="366.70" width="2.00" height="2.92" fill="#6e6290"/>
<rect x="165.78" y="366.70" width="2.00" height="25.30" fill="#b010f0"/>
<rect x="167.78" y="366.70" width="2.00" height="20.43" fill="#2a10e0"/>
<rect x="172.43" y="366.70" width="2.00" height="2.92" fill="#6e6290"/>
<rect x="174.43" y="289.83" width="2.00" height="76.87" fill="#b010f0"/>
<rect x="176.43" y="301.51" width="2.00" height="65.19" fill="#2a10e0"/>
<rect x="183.08" y="338.48" width="2.00" height="28.22" fill="#b010f0"/>
<rect x="185.08" y="366.70" width="2.00" height="6.81" fill="#2a10e0"/>
<rect x="189.74" y="355.02" width="2.00" height="11.68" fill="#6e6290"/>
<rect x="191.74" y="314.16" width="2.00" height="52.54" fill="#b010f0"/>
<rect x="193.74" y="358.23" width="2.00" height="8.47" fill="#2a10e0"/>
<rect x="198.39" y="366.70" width="2.00" height="11.68" fill="#6e6290"/>
<rect x="200.39" y="338.48" width="2.00" height="28.22" fill="#b010f0"/>
<rect x="202.39" y="345.29" width="2.00" height="21.41" fill="#2a10e0"/>
<rect x="207.04" y="359.40" width="2.00" height="7.30" fill="#6e6290"/>
<rect x="209.04" y="284.97" width="2.00" height="81.73" fill="#b010f0"/>
<rect x="211.04" y="302.48" width="2.00" height="64.22" fill="#2a10e0"/>
<rect x="215.69" y="348.21" width="2.00" height="18.49" fill="#6e6290"/>
<rect x="217.69" y="279.13" width="2.00" height="87.57" fill="#b010f0"/>
<rect x="219.69" y="308.32" width="2.00" height="58.38" fill="#2a10e0"/>
<rect x="226.34" y="287.89" width="2.00" height="78.81" fill="#b010f0"/>
<rect x="228.34" y="294.70" width="2.00" height="72.00" fill="#2a10e0"/>
<rect x="233.00" y="366.70" width="2.00" height="51.57" fill="#6e6290"/>
<rect x="235.00" y="366.70" width="2.00" height="46.70" fill="#b010f0"/>
<rect x="237.00" y="366.70" width="2.00" height="31.14" fill="#2a10e0"/>
<rect x="241.65" y="366.70" width="2.00" height="45.73" fill="#6e6290"/>
<rect x="243.65" y="366.70" width="2.00" height="36.97" fill="#b010f0"/>
<rect x="245.65" y="366.70" width="2.00" height="13.62" fill="#2a10e0"/>
<rect x="250.30" y="366.70" width="2.00" height="44.27" fill="#6e6290"/>
<rect x="252.30" y="341.40" width="2.00" height="25.30" fill="#b010f0"/>
<rect x="254.30" y="346.27" width="2.00" height="20.43" fill="#2a10e0"/>
<rect x="258.95" y="366.70" width="2.00" height="14.60" fill="#6e6290"/>
<rect x="260.95" y="305.40" width="2.00" height="61.30" fill="#b010f0"/>
<rect x="262.95" y="345.29" width="2.00" height="21.41" fill="#2a10e0"/>
<rect x="267.60" y="356.00" width="2.00" height="10.70" fill="#6e6290"/>
<rect x="269.60" y="307.83" width="2.00" height="58.87" fill="#b010f0"/>
<rect x="271.60" y="318.05" width="2.00" height="48.65" fill="#2a10e0"/>
<rect x="276.26" y="351.13" width="2.00" height="15.57" fill="#6e6290"/>
<rect x="278.26" y="336.54" width="2.00" height="30.16" fill="#b010f0"/>
<rect x="280.26" y="345.29" width="2.00" height="21.41" fill="#2a10e0"/>
<rect x="284.91" y="366.70" width="2.00" height="4.87" fill="#6e6290"/>
<rect x="286.91" y="318.05" width="2.00" height="48.65" fill="#b010f0"/>
<rect x="288.91" y="333.62" width="2.00" height="33.08" fill="#2a10e0"/>
<rect x="293.56" y="345.29" width="2.00" height="21.41" fill="#6e6290"/>
<rect x="295.56" y="337.02" width="2.00" height="29.68" fill="#b010f0"/>
<rect x="297.56" y="331.67" width="2.00" height="35.03" fill="#2a10e0"/>
<rect x="302.21" y="366.70" width="2.00" height="1.95" fill="#6e6290"/>
<rect x="304.21" y="294.70" width="2.00" height="72.00" fill="#b010f0"/>
<rect x="306.21" y="313.19" width="2.00" height="53.52" fill="#2a10e0"/>
<rect x="310.86" y="350.16" width="2.00" height="16.54" fill="#6e6290"/>
<rect x="312.86" y="329.73" width="2.00" height="36.97" fill="#b010f0"/>
<rect x="314.86" y="314.16" width="2.00" height="52.54" fill="#2a10e0"/>
<rect x="319.52" y="332.64" width="2.00" height="34.05" fill="#6e6290"/>
<rect x="321.52" y="366.70" width="2.00" height="3.89" fill="#b010f0"/>
<rect x="323.52" y="340.43" width="2.00" height="26.27" fill="#2a10e0"/>
<rect x="328.17" y="328.27" width="2.00" height="38.43" fill="#6e6290"/>
<rect x="330.17" y="356.00" width="2.00" height="10.70" fill="#b010f0"/>
<rect x="332.17" y="366.70" width="2.00" height="4.87" fill="#2a10e0"/>
<rect x="336.82" y="340.43" width="2.00" height="26.27" fill="#6e6290"/>
<rect x="338.82" y="342.86" width="2.00" height="23.84" fill="#b010f0"/>
<rect x="340.82" y="332.64" width="2.00" height="34.05" fill="#2a10e0"/>
<rect x="345.47" y="366.70" width="2.00" height="12.65" fill="#6e6290"/>
<rect x="347.47" y="366.70" width="2.00" height="20.43" fill="#b010f0"/>
<rect x="349.47" y="353.08" width="2.00" height="13.62" fill="#2a10e0"/>
<rect x="356.12" y="347.24" width="2.00" height="19.46" fill="#b010f0"/>
<rect x="358.12" y="366.70" width="2.00" height="1.95" fill="#2a10e0"/>
<rect x="362.78" y="366.70" width="2.00" height="18.49" fill="#6e6290"/>
<rect x="364.78" y="348.21" width="2.00" height="18.49" fill="#b010f0"/>
<rect x="366.78" y="354.05" width="2.00" height="12.65" fill="#2a10e0"/>
<rect x="371.43" y="348.21" width="2.00" height="18.49" fill="#6e6290"/>
<rect x="373.43" y="284.97" width="2.00" height="81.73" fill="#b010f0"/>
<rect x="375.43" y="313.19" width="2.00" height="53.52" fill="#2a10e0"/>
<rect x="380.08" y="339.46" width="2.00" height="27.24" fill="#6e6290"/>
<rect x="382.08" y="288.86" width="2.00" height="77.84" fill="#b010f0"/>
<rect x="384.08" y="298.59" width="2.00" height="68.11" fill="#2a10e0"/>
<rect x="388.73" y="366.70" width="2.00" height="34.54" fill="#6e6290"/>
<rect x="390.73" y="366.70" width="2.00" height="2.92" fill="#b010f0"/>
<rect x="392.73" y="358.92" width="2.00" height="7.78" fill="#2a10e0"/>
<rect x="397.38" y="366.70" width="2.00" height="16.05" fill="#6e6290"/>
<rect x="399.38" y="366.70" width="2.00" height="36.00" fill="#b010f0"/>
<rect x="401.38" y="366.70" width="2.00" height="40.38" fill="#2a10e0"/>
<rect x="406.04" y="366.70" width="2.00" height="14.40" fill="#6e6290"/>
<rect x="408.04" y="366.70" width="2.00" height="28.22" fill="#b010f0"/>
<rect x="410.04" y="366.70" width="2.00" height="39.89" fill="#2a10e0"/>
<rect x="414.69" y="325.35" width="2.00" height="41.35" fill="#6e6290"/>
<rect x="418.69" y="362.13" width="2.00" height="4.57" fill="#2a10e0"/>
<rect x="423.34" y="348.21" width="2.00" height="18.49" fill="#6e6290"/>
<rect x="425.34" y="366.70" width="2.00" height="16.05" fill="#b010f0"/>
<rect x="427.34" y="342.38" width="2.00" height="24.33" fill="#2a10e0"/>
<rect x="431.99" y="366.70" width="2.00" height="26.76" fill="#6e6290"/>
<rect x="433.99" y="330.70" width="2.00" height="36.00" fill="#b010f0"/>
<rect x="435.99" y="333.62" width="2.00" height="33.08" fill="#2a10e0"/>
<line x1="32.70" y1="268.90" x2="32.70" y2="445.04" stroke="#747474" stroke-width="1.1"/>
<line x1="30.70" y1="269.40" x2="32.70" y2="269.40" stroke="#333" stroke-width="1"/>
<text transform="translate(26.90,271.30) scale(0.84,1)" font-size="5.9" font-weight="bold" fill="#2a2a2a" text-anchor="end">1</text>
<line x1="30.70" y1="279.13" x2="32.70" y2="279.13" stroke="#333" stroke-width="1"/>
<text transform="translate(26.90,281.03) scale(0.84,1)" font-size="5.9" font-weight="bold" fill="#2a2a2a" text-anchor="end">0,9</text>
<line x1="30.70" y1="288.86" x2="32.70" y2="288.86" stroke="#333" stroke-width="1"/>
<text transform="translate(26.90,290.76) scale(0.84,1)" font-size="5.9" font-weight="bold" fill="#2a2a2a" text-anchor="end">0,8</text>
<line x1="30.70" y1="298.59" x2="32.70" y2="298.59" stroke="#333" stroke-width="1"/>
<text transform="translate(26.90,300.49) scale(0.84,1)" font-size="5.9" font-weight="bold" fill="#2a2a2a" text-anchor="end">0,7</text>
<line x1="30.70" y1="308.32" x2="32.70" y2="308.32" stroke="#333" stroke-width="1"/>
<text transform="translate(26.90,310.22) scale(0.84,1)" font-size="5.9" font-weight="bold" fill="#2a2a2a" text-anchor="end">0,6</text>
<line x1="30.70" y1="318.05" x2="32.70" y2="318.05" stroke="#333" stroke-width="1"/>
<text transform="translate(26.90,319.95) scale(0.84,1)" font-size="5.9" font-weight="bold" fill="#2a2a2a" text-anchor="end">0,5</text>
<line x1="30.70" y1="327.78" x2="32.70" y2="327.78" stroke="#333" stroke-width="1"/>
<text transform="translate(26.90,329.68) scale(0.84,1)" font-size="5.9" font-weight="bold" fill="#2a2a2a" text-anchor="end">0,4</text>
<line x1="30.70" y1="337.51" x2="32.70" y2="337.51" stroke="#333" stroke-width="1"/>
<text transform="translate(26.90,339.41) scale(0.84,1)" font-size="5.9" font-weight="bold" fill="#2a2a2a" text-anchor="end">0,3</text>
<line x1="30.70" y1="347.24" x2="32.70" y2="347.24" stroke="#333" stroke-width="1"/>
<text transform="translate(26.90,349.14) scale(0.84,1)" font-size="5.9" font-weight="bold" fill="#2a2a2a" text-anchor="end">0,2</text>
<line x1="30.70" y1="356.97" x2="32.70" y2="356.97" stroke="#333" stroke-width="1"/>
<text transform="translate(26.90,358.87) scale(0.84,1)" font-size="5.9" font-weight="bold" fill="#2a2a2a" text-anchor="end">0,1</text>
<line x1="30.70" y1="366.70" x2="32.70" y2="366.70" stroke="#333" stroke-width="1"/>
<text transform="translate(26.90,368.60) scale(0.84,1)" font-size="5.9" font-weight="bold" fill="#2a2a2a" text-anchor="end">0</text>
<line x1="30.70" y1="376.43" x2="32.70" y2="376.43" stroke="#333" stroke-width="1"/>
<text transform="translate(26.90,378.33) scale(0.84,1)" font-size="5.9" font-weight="bold" fill="#2a2a2a" text-anchor="end">-0,1</text>
<line x1="30.70" y1="386.16" x2="32.70" y2="386.16" stroke="#333" stroke-width="1"/>
<text transform="translate(26.90,388.06) scale(0.84,1)" font-size="5.9" font-weight="bold" fill="#2a2a2a" text-anchor="end">-0,2</text>
<line x1="30.70" y1="395.89" x2="32.70" y2="395.89" stroke="#333" stroke-width="1"/>
<text transform="translate(26.90,397.79) scale(0.84,1)" font-size="5.9" font-weight="bold" fill="#2a2a2a" text-anchor="end">-0,3</text>
<line x1="30.70" y1="405.62" x2="32.70" y2="405.62" stroke="#333" stroke-width="1"/>
<text transform="translate(26.90,407.52) scale(0.84,1)" font-size="5.9" font-weight="bold" fill="#2a2a2a" text-anchor="end">-0,4</text>
<line x1="30.70" y1="415.35" x2="32.70" y2="415.35" stroke="#333" stroke-width="1"/>
<text transform="translate(26.90,417.25) scale(0.84,1)" font-size="5.9" font-weight="bold" fill="#2a2a2a" text-anchor="end">-0,5</text>
<line x1="30.70" y1="425.08" x2="32.70" y2="425.08" stroke="#333" stroke-width="1"/>
<text transform="translate(26.90,426.98) scale(0.84,1)" font-size="5.9" font-weight="bold" fill="#2a2a2a" text-anchor="end">-0,6</text>
<line x1="30.70" y1="434.81" x2="32.70" y2="434.81" stroke="#333" stroke-width="1"/>
<text transform="translate(26.90,436.71) scale(0.84,1)" font-size="5.9" font-weight="bold" fill="#2a2a2a" text-anchor="end">-0,7</text>
<line x1="30.70" y1="444.54" x2="32.70" y2="444.54" stroke="#333" stroke-width="1"/>
<text transform="translate(26.90,446.44) scale(0.84,1)" font-size="5.9" font-weight="bold" fill="#2a2a2a" text-anchor="end">-0,8</text>
<text transform="translate(8.70,354.25) rotate(-90)" font-size="6.4" font-weight="bold" fill="#2a2a2a" text-anchor="middle" textLength="100" lengthAdjust="spacingAndGlyphs">Pearson's Correlation Coefficient</text>
<text transform="translate(40.80,266.60) rotate(-65) scale(0.70,1)" font-size="6.9" style="stroke-width:0.42px" font-weight="bold" fill="#2a2a2a">ACCUMB</text>
<text transform="translate(49.45,266.60) rotate(-65) scale(0.70,1)" font-size="6.9" style="stroke-width:0.42px" font-weight="bold" fill="#2a2a2a">NST</text>
<text transform="translate(58.10,266.60) rotate(-65) scale(0.70,1)" font-size="6.9" style="stroke-width:0.42px" font-weight="bold" fill="#2a2a2a">STRIATUM</text>
<text transform="translate(66.76,266.60) rotate(-65) scale(0.70,1)" font-size="6.9" style="stroke-width:0.42px" font-weight="bold" fill="#2a2a2a">MED_SEP</text>
<text transform="translate(75.41,266.60) rotate(-65) scale(0.70,1)" font-size="6.9" style="stroke-width:0.42px" font-weight="bold" fill="#2a2a2a">LAT_SEP</text>
<text transform="translate(84.06,266.60) rotate(-65) scale(0.70,1)" font-size="6.9" style="stroke-width:0.42px" font-weight="bold" fill="#2a2a2a">OB_CG</text>
<text transform="translate(92.71,266.60) rotate(-65) scale(0.70,1)" font-size="6.9" style="stroke-width:0.42px" font-weight="bold" fill="#2a2a2a">OB_CPG</text>
<text transform="translate(101.36,266.60) rotate(-65) scale(0.70,1)" font-size="6.9" style="stroke-width:0.42px" font-weight="bold" fill="#2a2a2a">ACO</text>
<text transform="translate(110.02,266.60) rotate(-65) scale(0.70,1)" font-size="6.9" style="stroke-width:0.42px" font-weight="bold" fill="#2a2a2a">BLA</text>
<text transform="translate(118.67,266.60) rotate(-65) scale(0.70,1)" font-size="6.9" style="stroke-width:0.42px" font-weight="bold" fill="#2a2a2a">CEA</text>
<text transform="translate(127.32,266.60) rotate(-65) scale(0.70,1)" font-size="6.9" style="stroke-width:0.42px" font-weight="bold" fill="#2a2a2a">MEDAM</text>
<text transform="translate(135.97,266.60) rotate(-65) scale(0.70,1)" font-size="6.9" style="stroke-width:0.42px" font-weight="bold" fill="#2a2a2a">ORB_CTX</text>
<text transform="translate(144.62,266.60) rotate(-65) scale(0.70,1)" font-size="6.9" style="stroke-width:0.42px" font-weight="bold" fill="#2a2a2a">PFCTX</text>
<text transform="translate(153.28,266.60) rotate(-65) scale(0.70,1)" font-size="6.9" style="stroke-width:0.42px" font-weight="bold" fill="#2a2a2a">ENTO_CTX</text>
<text transform="translate(161.93,266.60) rotate(-65) scale(0.70,1)" font-size="6.9" style="stroke-width:0.42px" font-weight="bold" fill="#2a2a2a">PIR_CTX</text>
<text transform="translate(170.58,266.60) rotate(-65) scale(0.70,1)" font-size="6.9" style="stroke-width:0.42px" font-weight="bold" fill="#2a2a2a">AGRA_CTX</text>
<text transform="translate(179.23,266.60) rotate(-65) scale(0.70,1)" font-size="6.9" style="stroke-width:0.42px" font-weight="bold" fill="#2a2a2a">CIN_CTX</text>
<text transform="translate(187.88,266.60) rotate(-65) scale(0.70,1)" font-size="6.9" style="stroke-width:0.42px" font-weight="bold" fill="#2a2a2a">SEN_CTX</text>
<text transform="translate(196.54,266.60) rotate(-65) scale(0.70,1)" font-size="6.9" style="stroke-width:0.42px" font-weight="bold" fill="#2a2a2a">MOT_CTX</text>
<text transform="translate(205.19,266.60) rotate(-65) scale(0.70,1)" font-size="6.9" style="stroke-width:0.42px" font-weight="bold" fill="#2a2a2a">TEMP_CTX</text>
<text transform="translate(213.84,266.60) rotate(-65) scale(0.70,1)" font-size="6.9" style="stroke-width:0.42px" font-weight="bold" fill="#2a2a2a">CA</text>
<text transform="translate(222.49,266.60) rotate(-65) scale(0.70,1)" font-size="6.9" style="stroke-width:0.42px" font-weight="bold" fill="#2a2a2a">DG</text>
<text transform="translate(231.14,266.60) rotate(-65) scale(0.70,1)" font-size="6.9" style="stroke-width:0.42px" font-weight="bold" fill="#2a2a2a">SUBICULUM</text>
<text transform="translate(239.80,266.60) rotate(-65) scale(0.70,1)" font-size="6.9" style="stroke-width:0.42px" font-weight="bold" fill="#2a2a2a">LAT_THAL</text>
<text transform="translate(248.45,266.60) rotate(-65) scale(0.70,1)" font-size="6.9" style="stroke-width:0.42px" font-weight="bold" fill="#2a2a2a">REUNIENS</text>
<text transform="translate(257.10,266.60) rotate(-65) scale(0.70,1)" font-size="6.9" style="stroke-width:0.42px" font-weight="bold" fill="#2a2a2a">LAT_HAB</text>
<text transform="translate(265.75,266.60) rotate(-65) scale(0.70,1)" font-size="6.9" style="stroke-width:0.42px" font-weight="bold" fill="#2a2a2a">MED_HAB</text>
<text transform="translate(274.40,266.60) rotate(-65) scale(0.70,1)" font-size="6.9" style="stroke-width:0.42px" font-weight="bold" fill="#2a2a2a">PARAVEN</text>
<text transform="translate(283.06,266.60) rotate(-65) scale(0.70,1)" font-size="6.9" style="stroke-width:0.42px" font-weight="bold" fill="#2a2a2a">HYPO</text>
<text transform="translate(291.71,266.60) rotate(-65) scale(0.70,1)" font-size="6.9" style="stroke-width:0.42px" font-weight="bold" fill="#2a2a2a">PREOPT</text>
<text transform="translate(300.36,266.60) rotate(-65) scale(0.70,1)" font-size="6.9" style="stroke-width:0.42px" font-weight="bold" fill="#2a2a2a">MAMM</text>
<text transform="translate(309.01,266.60) rotate(-65) scale(0.70,1)" font-size="6.9" style="stroke-width:0.42px" font-weight="bold" fill="#2a2a2a">ARC</text>
<text transform="translate(317.66,266.60) rotate(-65) scale(0.70,1)" font-size="6.9" style="stroke-width:0.42px" font-weight="bold" fill="#2a2a2a">PARABRACH</text>
<text transform="translate(326.32,266.60) rotate(-65) scale(0.70,1)" font-size="6.9" style="stroke-width:0.42px" font-weight="bold" fill="#2a2a2a">LC</text>
<text transform="translate(334.97,266.60) rotate(-65) scale(0.70,1)" font-size="6.9" style="stroke-width:0.42px" font-weight="bold" fill="#2a2a2a">PAG</text>
<text transform="translate(343.62,266.60) rotate(-65) scale(0.70,1)" font-size="6.9" style="stroke-width:0.42px" font-weight="bold" fill="#2a2a2a">VTA</text>
<text transform="translate(352.27,266.60) rotate(-65) scale(0.70,1)" font-size="6.9" style="stroke-width:0.42px" font-weight="bold" fill="#2a2a2a">SN</text>
<text transform="translate(360.92,266.60) rotate(-65) scale(0.70,1)" font-size="6.9" style="stroke-width:0.42px" font-weight="bold" fill="#2a2a2a">COLL</text>
<text transform="translate(369.58,266.60) rotate(-65) scale(0.70,1)" font-size="6.9" style="stroke-width:0.42px" font-weight="bold" fill="#2a2a2a">CERVE</text>
<text transform="translate(378.23,266.60) rotate(-65) scale(0.70,1)" font-size="6.9" style="stroke-width:0.42px" font-weight="bold" fill="#2a2a2a">GIGDEN</text>
<text transform="translate(386.88,266.60) rotate(-65) scale(0.70,1)" font-size="6.9" style="stroke-width:0.42px" font-weight="bold" fill="#2a2a2a">IP</text>
<text transform="translate(395.53,266.60) rotate(-65) scale(0.70,1)" font-size="6.9" style="stroke-width:0.42px" font-weight="bold" fill="#2a2a2a">X_PREP</text>
<text transform="translate(404.18,266.60) rotate(-65) scale(0.70,1)" font-size="6.9" style="stroke-width:0.42px" font-weight="bold" fill="#2a2a2a">TRIGE</text>
<text transform="translate(412.84,266.60) rotate(-65) scale(0.70,1)" font-size="6.9" style="stroke-width:0.42px" font-weight="bold" fill="#2a2a2a">COCHLEAR</text>
<text transform="translate(421.49,266.60) rotate(-65) scale(0.70,1)" font-size="6.9" style="stroke-width:0.42px" font-weight="bold" fill="#2a2a2a">DEEP_CER</text>
<text transform="translate(430.14,266.60) rotate(-65) scale(0.70,1)" font-size="6.9" style="stroke-width:0.42px" font-weight="bold" fill="#2a2a2a">B3</text>
<text transform="translate(438.79,266.60) rotate(-65) scale(0.70,1)" font-size="6.9" style="stroke-width:0.42px" font-weight="bold" fill="#2a2a2a">SVZ</text>
<rect x="213.10" y="439.00" width="4.3" height="4.5" fill="#5a5a78"/>
<text x="219.40" y="443.20" font-size="6" font-weight="bold" fill="#333">B9</text>
<rect x="231.50" y="439.00" width="4.3" height="4.5" fill="#a000f0"/>
<text x="237.80" y="443.20" font-size="6" font-weight="bold" fill="#333">B8</text>
<rect x="250.00" y="439.00" width="4.3" height="4.5" fill="#1a00e0"/>
<text x="256.30" y="443.20" font-size="6" font-weight="bold" fill="#333">B5</text>
<line x1="593.80" y1="313.79" x2="999.90" y2="313.79" stroke="#a2a2a2" stroke-width="1" stroke-dasharray="1.3,0.9"/>
<line x1="593.80" y1="323.51" x2="999.90" y2="323.51" stroke="#a2a2a2" stroke-width="1" stroke-dasharray="1.3,0.9"/>
<line x1="593.80" y1="409.14" x2="999.90" y2="409.14" stroke="#a2a2a2" stroke-width="1" stroke-dasharray="1.3,0.9"/>
<line x1="593.80" y1="421.30" x2="999.90" y2="421.30" stroke="#a2a2a2" stroke-width="1" stroke-dasharray="1.3,0.9"/>
<text x="1001.90" y="315.39" font-size="5.2" font-weight="bold" fill="#2a2a2a" textLength="18.5" lengthAdjust="spacingAndGlyphs">p &lt; 0.01</text>
<text x="1001.90" y="325.12" font-size="5.2" font-weight="bold" fill="#2a2a2a" textLength="18.5" lengthAdjust="spacingAndGlyphs">p &lt; 0.05</text>
<text x="1001.90" y="410.74" font-size="5.2" font-weight="bold" fill="#2a2a2a" textLength="18.5" lengthAdjust="spacingAndGlyphs">p &lt; 0.05</text>
<text x="1001.90" y="422.90" font-size="5.2" font-weight="bold" fill="#2a2a2a" textLength="18.5" lengthAdjust="spacingAndGlyphs">p &lt; 0.01</text>
<rect x="594.02" y="367.30" width="1.75" height="12.65" fill="#f9c31a"/>
<rect x="595.77" y="367.30" width="1.75" height="5.84" fill="#d9262f"/>
<rect x="597.52" y="367.30" width="1.75" height="19.46" fill="#921e26"/>
<rect x="602.68" y="367.30" width="1.75" height="14.60" fill="#f9c31a"/>
<rect x="604.43" y="343.95" width="1.75" height="23.35" fill="#d9262f"/>
<rect x="606.18" y="367.30" width="1.75" height="31.14" fill="#921e26"/>
<rect x="611.33" y="367.30" width="1.75" height="20.43" fill="#f9c31a"/>
<rect x="613.08" y="367.30" width="1.75" height="4.87" fill="#d9262f"/>
<rect x="614.83" y="367.30" width="1.75" height="43.79" fill="#921e26"/>
<rect x="619.98" y="367.30" width="1.75" height="38.92" fill="#f9c31a"/>
<rect x="621.73" y="367.30" width="1.75" height="12.65" fill="#d9262f"/>
<rect x="623.48" y="367.30" width="1.75" height="65.19" fill="#921e26"/>
<rect x="628.63" y="367.30" width="1.75" height="61.30" fill="#f9c31a"/>
<rect x="630.38" y="367.30" width="1.75" height="43.79" fill="#d9262f"/>
<rect x="632.13" y="367.30" width="1.75" height="51.57" fill="#921e26"/>
<rect x="637.28" y="360.49" width="1.75" height="6.81" fill="#f9c31a"/>
<rect x="639.03" y="345.89" width="1.75" height="21.41" fill="#d9262f"/>
<rect x="640.78" y="360.49" width="1.75" height="6.81" fill="#921e26"/>
<rect x="645.94" y="367.30" width="1.75" height="27.24" fill="#f9c31a"/>
<rect x="647.69" y="367.30" width="1.75" height="13.62" fill="#d9262f"/>
<rect x="649.44" y="367.30" width="1.75" height="19.46" fill="#921e26"/>
<rect x="654.59" y="365.35" width="1.75" height="1.95" fill="#f9c31a"/>
<rect x="656.34" y="333.25" width="1.75" height="34.05" fill="#d9262f"/>
<rect x="658.09" y="367.30" width="1.75" height="15.57" fill="#921e26"/>
<rect x="663.24" y="359.52" width="1.75" height="7.78" fill="#f9c31a"/>
<rect x="664.99" y="327.41" width="1.75" height="39.89" fill="#d9262f"/>
<rect x="666.74" y="367.30" width="1.75" height="12.65" fill="#921e26"/>
<rect x="671.89" y="335.19" width="1.75" height="32.11" fill="#f9c31a"/>
<rect x="673.64" y="301.14" width="1.75" height="66.16" fill="#d9262f"/>
<rect x="675.39" y="348.81" width="1.75" height="18.49" fill="#921e26"/>
<rect x="680.54" y="346.87" width="1.75" height="20.43" fill="#f9c31a"/>
<rect x="682.29" y="367.30" width="1.75" height="9.73" fill="#d9262f"/>
<rect x="684.04" y="366.33" width="1.75" height="0.97" fill="#921e26"/>
<rect x="689.20" y="354.65" width="1.75" height="12.65" fill="#f9c31a"/>
<rect x="690.95" y="307.95" width="1.75" height="59.35" fill="#d9262f"/>
<rect x="697.85" y="363.41" width="1.75" height="3.89" fill="#f9c31a"/>
<rect x="699.60" y="335.19" width="1.75" height="32.11" fill="#d9262f"/>
<rect x="701.35" y="367.30" width="1.75" height="13.62" fill="#921e26"/>
<rect x="708.25" y="326.43" width="1.75" height="40.87" fill="#d9262f"/>
<rect x="710.00" y="367.30" width="1.75" height="9.73" fill="#921e26"/>
<rect x="715.15" y="319.62" width="1.75" height="47.68" fill="#f9c31a"/>
<rect x="716.90" y="307.95" width="1.75" height="59.35" fill="#d9262f"/>
<rect x="718.65" y="327.41" width="1.75" height="39.89" fill="#921e26"/>
<rect x="723.80" y="354.65" width="1.75" height="12.65" fill="#f9c31a"/>
<rect x="725.55" y="311.84" width="1.75" height="55.46" fill="#d9262f"/>
<rect x="727.30" y="367.30" width="1.75" height="5.84" fill="#921e26"/>
<rect x="732.46" y="367.30" width="1.75" height="43.79" fill="#f9c31a"/>
<rect x="734.21" y="367.30" width="1.75" height="19.46" fill="#d9262f"/>
<rect x="735.96" y="367.30" width="1.75" height="45.73" fill="#921e26"/>
<rect x="741.11" y="367.30" width="1.75" height="24.33" fill="#f9c31a"/>
<rect x="742.86" y="338.11" width="1.75" height="29.19" fill="#d9262f"/>
<rect x="744.61" y="367.30" width="1.75" height="22.38" fill="#921e26"/>
<rect x="749.76" y="367.30" width="1.75" height="41.84" fill="#f9c31a"/>
<rect x="751.51" y="352.70" width="1.75" height="14.60" fill="#d9262f"/>
<rect x="753.26" y="367.30" width="1.75" height="40.87" fill="#921e26"/>
<rect x="758.41" y="351.73" width="1.75" height="15.57" fill="#f9c31a"/>
<rect x="760.16" y="352.70" width="1.75" height="14.60" fill="#d9262f"/>
<rect x="761.91" y="352.70" width="1.75" height="14.60" fill="#921e26"/>
<rect x="767.06" y="367.30" width="1.75" height="49.62" fill="#f9c31a"/>
<rect x="768.81" y="367.30" width="1.75" height="21.41" fill="#d9262f"/>
<rect x="770.56" y="367.30" width="1.75" height="47.68" fill="#921e26"/>
<rect x="775.72" y="367.30" width="1.75" height="55.46" fill="#f9c31a"/>
<rect x="777.47" y="367.30" width="1.75" height="40.87" fill="#d9262f"/>
<rect x="779.22" y="367.30" width="1.75" height="46.70" fill="#921e26"/>
<rect x="784.37" y="367.30" width="1.75" height="42.81" fill="#f9c31a"/>
<rect x="786.12" y="367.30" width="1.75" height="38.92" fill="#d9262f"/>
<rect x="787.87" y="367.30" width="1.75" height="40.87" fill="#921e26"/>
<rect x="793.02" y="294.32" width="1.75" height="72.98" fill="#f9c31a"/>
<rect x="794.77" y="340.06" width="1.75" height="27.24" fill="#d9262f"/>
<rect x="796.52" y="281.68" width="1.75" height="85.62" fill="#921e26"/>
<rect x="801.67" y="336.16" width="1.75" height="31.14" fill="#f9c31a"/>
<rect x="803.42" y="338.11" width="1.75" height="29.19" fill="#d9262f"/>
<rect x="805.17" y="334.22" width="1.75" height="33.08" fill="#921e26"/>
<rect x="810.32" y="356.60" width="1.75" height="10.70" fill="#f9c31a"/>
<rect x="812.07" y="367.30" width="1.75" height="10.70" fill="#d9262f"/>
<rect x="813.82" y="361.46" width="1.75" height="5.84" fill="#921e26"/>
<rect x="820.73" y="367.30" width="1.75" height="18.49" fill="#d9262f"/>
<rect x="822.48" y="361.46" width="1.75" height="5.84" fill="#921e26"/>
<rect x="827.63" y="367.30" width="1.75" height="34.05" fill="#f9c31a"/>
<rect x="829.38" y="367.30" width="1.75" height="4.87" fill="#d9262f"/>
<rect x="831.13" y="367.30" width="1.75" height="25.30" fill="#921e26"/>
<rect x="836.28" y="367.30" width="1.75" height="18.49" fill="#f9c31a"/>
<rect x="838.03" y="367.30" width="1.75" height="51.57" fill="#d9262f"/>
<rect x="839.78" y="367.30" width="1.75" height="12.65" fill="#921e26"/>
<rect x="844.93" y="365.35" width="1.75" height="1.95" fill="#f9c31a"/>
<rect x="846.68" y="367.30" width="1.75" height="27.24" fill="#d9262f"/>
<rect x="848.43" y="367.30" width="1.75" height="1.95" fill="#921e26"/>
<rect x="853.59" y="367.30" width="1.75" height="36.00" fill="#f9c31a"/>
<rect x="855.34" y="367.30" width="1.75" height="4.87" fill="#d9262f"/>
<rect x="857.09" y="367.30" width="1.75" height="17.51" fill="#921e26"/>
<rect x="862.24" y="367.30" width="1.75" height="13.62" fill="#f9c31a"/>
<rect x="863.99" y="367.30" width="1.75" height="24.33" fill="#d9262f"/>
<rect x="865.74" y="367.30" width="1.75" height="7.78" fill="#921e26"/>
<rect x="870.89" y="367.30" width="1.75" height="49.62" fill="#f9c31a"/>
<rect x="872.64" y="367.30" width="1.75" height="4.87" fill="#d9262f"/>
<rect x="874.39" y="367.30" width="1.75" height="55.46" fill="#921e26"/>
<rect x="879.54" y="367.30" width="1.75" height="19.46" fill="#f9c31a"/>
<rect x="881.29" y="367.30" width="1.75" height="4.87" fill="#d9262f"/>
<rect x="883.04" y="367.30" width="1.75" height="42.81" fill="#921e26"/>
<rect x="888.19" y="367.30" width="1.75" height="12.65" fill="#f9c31a"/>
<rect x="889.94" y="367.30" width="1.75" height="22.38" fill="#d9262f"/>
<rect x="891.69" y="367.30" width="1.75" height="20.43" fill="#921e26"/>
<rect x="896.85" y="367.30" width="1.75" height="11.68" fill="#f9c31a"/>
<rect x="898.60" y="367.30" width="1.75" height="26.27" fill="#d9262f"/>
<rect x="900.35" y="367.30" width="1.75" height="19.46" fill="#921e26"/>
<rect x="905.50" y="333.25" width="1.75" height="34.05" fill="#f9c31a"/>
<rect x="907.25" y="310.87" width="1.75" height="56.43" fill="#d9262f"/>
<rect x="909.00" y="365.84" width="1.75" height="1.46" fill="#921e26"/>
<rect x="914.15" y="332.27" width="1.75" height="35.03" fill="#f9c31a"/>
<rect x="915.90" y="344.92" width="1.75" height="22.38" fill="#d9262f"/>
<rect x="917.65" y="337.14" width="1.75" height="30.16" fill="#921e26"/>
<rect x="922.80" y="345.89" width="1.75" height="21.41" fill="#f9c31a"/>
<rect x="924.55" y="367.30" width="1.75" height="20.43" fill="#d9262f"/>
<rect x="926.30" y="320.60" width="1.75" height="46.70" fill="#921e26"/>
<rect x="931.45" y="367.30" width="1.75" height="41.84" fill="#f9c31a"/>
<rect x="933.20" y="367.30" width="1.75" height="13.62" fill="#d9262f"/>
<rect x="934.95" y="367.30" width="1.75" height="29.19" fill="#921e26"/>
<rect x="940.11" y="367.30" width="1.75" height="54.49" fill="#f9c31a"/>
<rect x="941.86" y="367.30" width="1.75" height="34.05" fill="#d9262f"/>
<rect x="943.61" y="367.30" width="1.75" height="46.70" fill="#921e26"/>
<rect x="948.76" y="358.54" width="1.75" height="8.76" fill="#f9c31a"/>
<rect x="950.51" y="350.76" width="1.75" height="16.54" fill="#d9262f"/>
<rect x="952.26" y="342.00" width="1.75" height="25.30" fill="#921e26"/>
<rect x="957.41" y="338.11" width="1.75" height="29.19" fill="#f9c31a"/>
<rect x="959.16" y="322.54" width="1.75" height="44.76" fill="#d9262f"/>
<rect x="960.91" y="361.46" width="1.75" height="5.84" fill="#921e26"/>
<rect x="966.06" y="350.76" width="1.75" height="16.54" fill="#f9c31a"/>
<rect x="967.81" y="324.49" width="1.75" height="42.81" fill="#d9262f"/>
<rect x="969.56" y="367.30" width="1.75" height="1.95" fill="#921e26"/>
<rect x="974.71" y="367.30" width="1.75" height="58.38" fill="#f9c31a"/>
<rect x="976.46" y="367.30" width="1.75" height="22.38" fill="#d9262f"/>
<rect x="978.21" y="367.30" width="1.75" height="51.57" fill="#921e26"/>
<rect x="983.37" y="367.30" width="1.75" height="9.73" fill="#f9c31a"/>
<rect x="985.12" y="367.30" width="1.75" height="18.49" fill="#d9262f"/>
<rect x="992.02" y="352.70" width="1.75" height="14.60" fill="#f9c31a"/>
<rect x="993.77" y="367.30" width="1.75" height="44.76" fill="#d9262f"/>
<rect x="995.52" y="359.52" width="1.75" height="7.78" fill="#921e26"/>
<line x1="593.30" y1="269.50" x2="593.30" y2="445.64" stroke="#747474" stroke-width="1.1"/>
<line x1="591.30" y1="270.00" x2="593.30" y2="270.00" stroke="#333" stroke-width="1"/>
<text transform="translate(587.50,271.90) scale(0.84,1)" font-size="5.9" font-weight="bold" fill="#2a2a2a" text-anchor="end">1</text>
<line x1="591.30" y1="279.73" x2="593.30" y2="279.73" stroke="#333" stroke-width="1"/>
<text transform="translate(587.50,281.63) scale(0.84,1)" font-size="5.9" font-weight="bold" fill="#2a2a2a" text-anchor="end">0,9</text>
<line x1="591.30" y1="289.46" x2="593.30" y2="289.46" stroke="#333" stroke-width="1"/>
<text transform="translate(587.50,291.36) scale(0.84,1)" font-size="5.9" font-weight="bold" fill="#2a2a2a" text-anchor="end">0,8</text>
<line x1="591.30" y1="299.19" x2="593.30" y2="299.19" stroke="#333" stroke-width="1"/>
<text transform="translate(587.50,301.09) scale(0.84,1)" font-size="5.9" font-weight="bold" fill="#2a2a2a" text-anchor="end">0,7</text>
<line x1="591.30" y1="308.92" x2="593.30" y2="308.92" stroke="#333" stroke-width="1"/>
<text transform="translate(587.50,310.82) scale(0.84,1)" font-size="5.9" font-weight="bold" fill="#2a2a2a" text-anchor="end">0,6</text>
<line x1="591.30" y1="318.65" x2="593.30" y2="318.65" stroke="#333" stroke-width="1"/>
<text transform="translate(587.50,320.55) scale(0.84,1)" font-size="5.9" font-weight="bold" fill="#2a2a2a" text-anchor="end">0,5</text>
<line x1="591.30" y1="328.38" x2="593.30" y2="328.38" stroke="#333" stroke-width="1"/>
<text transform="translate(587.50,330.28) scale(0.84,1)" font-size="5.9" font-weight="bold" fill="#2a2a2a" text-anchor="end">0,4</text>
<line x1="591.30" y1="338.11" x2="593.30" y2="338.11" stroke="#333" stroke-width="1"/>
<text transform="translate(587.50,340.01) scale(0.84,1)" font-size="5.9" font-weight="bold" fill="#2a2a2a" text-anchor="end">0,3</text>
<line x1="591.30" y1="347.84" x2="593.30" y2="347.84" stroke="#333" stroke-width="1"/>
<text transform="translate(587.50,349.74) scale(0.84,1)" font-size="5.9" font-weight="bold" fill="#2a2a2a" text-anchor="end">0,2</text>
<line x1="591.30" y1="357.57" x2="593.30" y2="357.57" stroke="#333" stroke-width="1"/>
<text transform="translate(587.50,359.47) scale(0.84,1)" font-size="5.9" font-weight="bold" fill="#2a2a2a" text-anchor="end">0,1</text>
<line x1="591.30" y1="367.30" x2="593.30" y2="367.30" stroke="#333" stroke-width="1"/>
<text transform="translate(587.50,369.20) scale(0.84,1)" font-size="5.9" font-weight="bold" fill="#2a2a2a" text-anchor="end">0</text>
<line x1="591.30" y1="377.03" x2="593.30" y2="377.03" stroke="#333" stroke-width="1"/>
<text transform="translate(587.50,378.93) scale(0.84,1)" font-size="5.9" font-weight="bold" fill="#2a2a2a" text-anchor="end">-0,1</text>
<line x1="591.30" y1="386.76" x2="593.30" y2="386.76" stroke="#333" stroke-width="1"/>
<text transform="translate(587.50,388.66) scale(0.84,1)" font-size="5.9" font-weight="bold" fill="#2a2a2a" text-anchor="end">-0,2</text>
<line x1="591.30" y1="396.49" x2="593.30" y2="396.49" stroke="#333" stroke-width="1"/>
<text transform="translate(587.50,398.39) scale(0.84,1)" font-size="5.9" font-weight="bold" fill="#2a2a2a" text-anchor="end">-0,3</text>
<line x1="591.30" y1="406.22" x2="593.30" y2="406.22" stroke="#333" stroke-width="1"/>
<text transform="translate(587.50,408.12) scale(0.84,1)" font-size="5.9" font-weight="bold" fill="#2a2a2a" text-anchor="end">-0,4</text>
<line x1="591.30" y1="415.95" x2="593.30" y2="415.95" stroke="#333" stroke-width="1"/>
<text transform="translate(587.50,417.85) scale(0.84,1)" font-size="5.9" font-weight="bold" fill="#2a2a2a" text-anchor="end">-0,5</text>
<line x1="591.30" y1="425.68" x2="593.30" y2="425.68" stroke="#333" stroke-width="1"/>
<text transform="translate(587.50,427.58) scale(0.84,1)" font-size="5.9" font-weight="bold" fill="#2a2a2a" text-anchor="end">-0,6</text>
<line x1="591.30" y1="435.41" x2="593.30" y2="435.41" stroke="#333" stroke-width="1"/>
<text transform="translate(587.50,437.31) scale(0.84,1)" font-size="5.9" font-weight="bold" fill="#2a2a2a" text-anchor="end">-0,7</text>
<line x1="591.30" y1="445.14" x2="593.30" y2="445.14" stroke="#333" stroke-width="1"/>
<text transform="translate(587.50,447.04) scale(0.84,1)" font-size="5.9" font-weight="bold" fill="#2a2a2a" text-anchor="end">-0,8</text>
<text transform="translate(569.30,354.85) rotate(-90)" font-size="6.4" font-weight="bold" fill="#2a2a2a" text-anchor="middle" textLength="100" lengthAdjust="spacingAndGlyphs">Pearson's Correlation Coefficient</text>
<text transform="translate(600.70,267.20) rotate(-65) scale(0.70,1)" font-size="6.9" style="stroke-width:0.42px" font-weight="bold" fill="#2a2a2a">ACCUMB</text>
<text transform="translate(609.35,267.20) rotate(-65) scale(0.70,1)" font-size="6.9" style="stroke-width:0.42px" font-weight="bold" fill="#2a2a2a">NST</text>
<text transform="translate(618.00,267.20) rotate(-65) scale(0.70,1)" font-size="6.9" style="stroke-width:0.42px" font-weight="bold" fill="#2a2a2a">STRIATUM</text>
<text transform="translate(626.66,267.20) rotate(-65) scale(0.70,1)" font-size="6.9" style="stroke-width:0.42px" font-weight="bold" fill="#2a2a2a">MED_SEP</text>
<text transform="translate(635.31,267.20) rotate(-65) scale(0.70,1)" font-size="6.9" style="stroke-width:0.42px" font-weight="bold" fill="#2a2a2a">LAT_SEP</text>
<text transform="translate(643.96,267.20) rotate(-65) scale(0.70,1)" font-size="6.9" style="stroke-width:0.42px" font-weight="bold" fill="#2a2a2a">OB_CG</text>
<text transform="translate(652.61,267.20) rotate(-65) scale(0.70,1)" font-size="6.9" style="stroke-width:0.42px" font-weight="bold" fill="#2a2a2a">OB_CPG</text>
<text transform="translate(661.26,267.20) rotate(-65) scale(0.70,1)" font-size="6.9" style="stroke-width:0.42px" font-weight="bold" fill="#2a2a2a">ACO</text>
<text transform="translate(669.92,267.20) rotate(-65) scale(0.70,1)" font-size="6.9" style="stroke-width:0.42px" font-weight="bold" fill="#2a2a2a">BLA</text>
<text transform="translate(678.57,267.20) rotate(-65) scale(0.70,1)" font-size="6.9" style="stroke-width:0.42px" font-weight="bold" fill="#2a2a2a">CEA</text>
<text transform="translate(687.22,267.20) rotate(-65) scale(0.70,1)" font-size="6.9" style="stroke-width:0.42px" font-weight="bold" fill="#2a2a2a">MEDAM</text>
<text transform="translate(695.87,267.20) rotate(-65) scale(0.70,1)" font-size="6.9" style="stroke-width:0.42px" font-weight="bold" fill="#2a2a2a">ORB_CTX</text>
<text transform="translate(704.52,267.20) rotate(-65) scale(0.70,1)" font-size="6.9" style="stroke-width:0.42px" font-weight="bold" fill="#2a2a2a">PFCTX</text>
<text transform="translate(713.18,267.20) rotate(-65) scale(0.70,1)" font-size="6.9" style="stroke-width:0.42px" font-weight="bold" fill="#2a2a2a">ENTO_CTX</text>
<text transform="translate(721.83,267.20) rotate(-65) scale(0.70,1)" font-size="6.9" style="stroke-width:0.42px" font-weight="bold" fill="#2a2a2a">PIR_CTX</text>
<text transform="translate(730.48,267.20) rotate(-65) scale(0.70,1)" font-size="6.9" style="stroke-width:0.42px" font-weight="bold" fill="#2a2a2a">AGRA_CTX</text>
<text transform="translate(739.13,267.20) rotate(-65) scale(0.70,1)" font-size="6.9" style="stroke-width:0.42px" font-weight="bold" fill="#2a2a2a">CIN_CTX</text>
<text transform="translate(747.78,267.20) rotate(-65) scale(0.70,1)" font-size="6.9" style="stroke-width:0.42px" font-weight="bold" fill="#2a2a2a">SEN_CTX</text>
<text transform="translate(756.44,267.20) rotate(-65) scale(0.70,1)" font-size="6.9" style="stroke-width:0.42px" font-weight="bold" fill="#2a2a2a">MOT_CTX</text>
<text transform="translate(765.09,267.20) rotate(-65) scale(0.70,1)" font-size="6.9" style="stroke-width:0.42px" font-weight="bold" fill="#2a2a2a">TEMP_CTX</text>
<text transform="translate(773.74,267.20) rotate(-65) scale(0.70,1)" font-size="6.9" style="stroke-width:0.42px" font-weight="bold" fill="#2a2a2a">CA</text>
<text transform="translate(782.39,267.20) rotate(-65) scale(0.70,1)" font-size="6.9" style="stroke-width:0.42px" font-weight="bold" fill="#2a2a2a">DG</text>
<text transform="translate(791.04,267.20) rotate(-65) scale(0.70,1)" font-size="6.9" style="stroke-width:0.42px" font-weight="bold" fill="#2a2a2a">SUBICULUM</text>
<text transform="translate(799.70,267.20) rotate(-65) scale(0.70,1)" font-size="6.9" style="stroke-width:0.42px" font-weight="bold" fill="#2a2a2a">LAT_THAL</text>
<text transform="translate(808.35,267.20) rotate(-65) scale(0.70,1)" font-size="6.9" style="stroke-width:0.42px" font-weight="bold" fill="#2a2a2a">REUNIENS</text>
<text transform="translate(817.00,267.20) rotate(-65) scale(0.70,1)" font-size="6.9" style="stroke-width:0.42px" font-weight="bold" fill="#2a2a2a">LAT_HAB</text>
<text transform="translate(825.65,267.20) rotate(-65) scale(0.70,1)" font-size="6.9" style="stroke-width:0.42px" font-weight="bold" fill="#2a2a2a">MED_HAB</text>
<text transform="translate(834.30,267.20) rotate(-65) scale(0.70,1)" font-size="6.9" style="stroke-width:0.42px" font-weight="bold" fill="#2a2a2a">PARAVEN</text>
<text transform="translate(842.96,267.20) rotate(-65) scale(0.70,1)" font-size="6.9" style="stroke-width:0.42px" font-weight="bold" fill="#2a2a2a">HYPO</text>
<text transform="translate(851.61,267.20) rotate(-65) scale(0.70,1)" font-size="6.9" style="stroke-width:0.42px" font-weight="bold" fill="#2a2a2a">PREOPT</text>
<text transform="translate(860.26,267.20) rotate(-65) scale(0.70,1)" font-size="6.9" style="stroke-width:0.42px" font-weight="bold" fill="#2a2a2a">MAMM</text>
<text transform="translate(868.91,267.20) rotate(-65) scale(0.70,1)" font-size="6.9" style="stroke-width:0.42px" font-weight="bold" fill="#2a2a2a">ARC</text>
<text transform="translate(877.56,267.20) rotate(-65) scale(0.70,1)" font-size="6.9" style="stroke-width:0.42px" font-weight="bold" fill="#2a2a2a">PARABRACH</text>
<text transform="translate(886.22,267.20) rotate(-65) scale(0.70,1)" font-size="6.9" style="stroke-width:0.42px" font-weight="bold" fill="#2a2a2a">LC</text>
<text transform="translate(894.87,267.20) rotate(-65) scale(0.70,1)" font-size="6.9" style="stroke-width:0.42px" font-weight="bold" fill="#2a2a2a">PAG</text>
<text transform="translate(903.52,267.20) rotate(-65) scale(0.70,1)" font-size="6.9" style="stroke-width:0.42px" font-weight="bold" fill="#2a2a2a">VTA</text>
<text transform="translate(912.17,267.20) rotate(-65) scale(0.70,1)" font-size="6.9" style="stroke-width:0.42px" font-weight="bold" fill="#2a2a2a">SN</text>
<text transform="translate(920.82,267.20) rotate(-65) scale(0.70,1)" font-size="6.9" style="stroke-width:0.42px" font-weight="bold" fill="#2a2a2a">COLL</text>
<text transform="translate(929.48,267.20) rotate(-65) scale(0.70,1)" font-size="6.9" style="stroke-width:0.42px" font-weight="bold" fill="#2a2a2a">CERVE</text>
<text transform="translate(938.13,267.20) rotate(-65) scale(0.70,1)" font-size="6.9" style="stroke-width:0.42px" font-weight="bold" fill="#2a2a2a">GIGDEN</text>
<text transform="translate(946.78,267.20) rotate(-65) scale(0.70,1)" font-size="6.9" style="stroke-width:0.42px" font-weight="bold" fill="#2a2a2a">IP</text>
<text transform="translate(955.43,267.20) rotate(-65) scale(0.70,1)" font-size="6.9" style="stroke-width:0.42px" font-weight="bold" fill="#2a2a2a">X_PREP</text>
<text transform="translate(964.08,267.20) rotate(-65) scale(0.70,1)" font-size="6.9" style="stroke-width:0.42px" font-weight="bold" fill="#2a2a2a">TRIGE</text>
<text transform="translate(972.74,267.20) rotate(-65) scale(0.70,1)" font-size="6.9" style="stroke-width:0.42px" font-weight="bold" fill="#2a2a2a">COCHLEAR</text>
<text transform="translate(981.39,267.20) rotate(-65) scale(0.70,1)" font-size="6.9" style="stroke-width:0.42px" font-weight="bold" fill="#2a2a2a">DEEP_CER</text>
<text transform="translate(990.04,267.20) rotate(-65) scale(0.70,1)" font-size="6.9" style="stroke-width:0.42px" font-weight="bold" fill="#2a2a2a">B3</text>
<text transform="translate(998.69,267.20) rotate(-65) scale(0.70,1)" font-size="6.9" style="stroke-width:0.42px" font-weight="bold" fill="#2a2a2a">SVZ</text>
<rect x="754.20" y="443.20" width="4.3" height="4.5" fill="#e6c41e"/>
<text x="760.50" y="447.40" font-size="6" font-weight="bold" fill="#333">B7d</text>
<rect x="778.00" y="443.20" width="4.3" height="4.5" fill="#f80c1e"/>
<text x="784.30" y="447.40" font-size="6" font-weight="bold" fill="#333">B7v</text>
<rect x="800.70" y="443.20" width="4.3" height="4.5" fill="#5e0a14"/>
<text x="807.00" y="447.40" font-size="6" font-weight="bold" fill="#333">B7lw</text>
<text x="0.9" y="31.2" font-size="17.2" font-weight="bold" fill="#000" style="stroke:#000;stroke-width:0.35px">A</text>
<text x="560.4" y="31.7" font-size="17.5" font-weight="bold" fill="#000" style="stroke:#000;stroke-width:0.35px">B</text>
<text x="5.2" y="252.6" font-size="17.5" font-weight="bold" fill="#000" style="stroke:#000;stroke-width:0.35px">C</text>
<text x="565.9" y="258.9" font-size="17.2" font-weight="bold" fill="#000" style="stroke:#000;stroke-width:0.35px">D</text>
<line x1="487.5" y1="216.7" x2="536.0" y2="265.4" stroke="#111" stroke-width="1.6" marker-start="url(#ah)" marker-end="url(#ah)"/>
<line x1="536.0" y1="216.7" x2="487.5" y2="265.4" stroke="#111" stroke-width="1.6" marker-start="url(#ah)" marker-end="url(#ah)"/>
<line x1="1044.5" y1="433.2" x2="1050.5" y2="442.6" stroke="#46d65a" stroke-width="1.1"/>
</svg>
</body></html>
